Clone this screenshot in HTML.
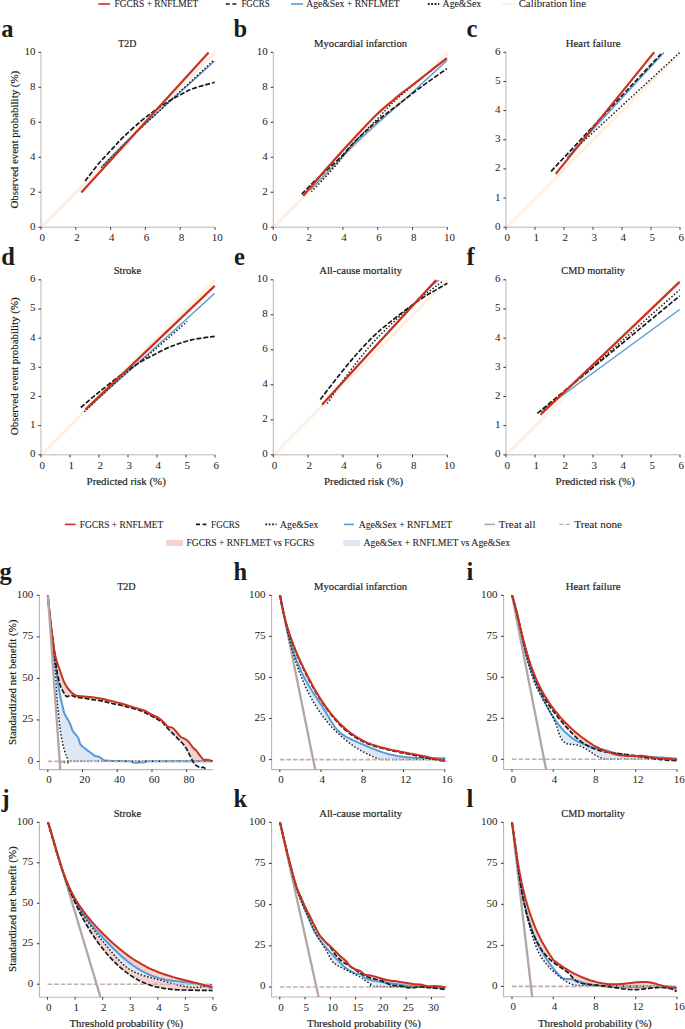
<!DOCTYPE html>
<html><head><meta charset="utf-8"><style>
html,body{margin:0;padding:0;background:#fff;overflow:hidden;}
svg{display:block;font-family:"Liberation Serif", serif;fill:#1e1e1e;}
text{fill:#1c1c1c;} text.h{stroke:#1c1c1c;stroke-width:0.18px;} text.lg{stroke:#1c1c1c;stroke-width:0.08px;}
</style></head><body>
<svg width="685" height="1029" viewBox="0 0 685 1029">
<line x1="41.00" y1="227.60" x2="215.00" y2="52.70" stroke="#fdefe2" stroke-width="2.9" stroke-linecap="butt"/>
<line x1="273.30" y1="227.60" x2="447.30" y2="52.70" stroke="#fdefe2" stroke-width="2.9" stroke-linecap="butt"/>
<line x1="506.00" y1="227.60" x2="680.00" y2="52.70" stroke="#fdefe2" stroke-width="2.9" stroke-linecap="butt"/>
<line x1="41.00" y1="455.20" x2="215.00" y2="280.20" stroke="#fdefe2" stroke-width="2.9" stroke-linecap="butt"/>
<line x1="273.30" y1="455.20" x2="447.30" y2="280.20" stroke="#fdefe2" stroke-width="2.9" stroke-linecap="butt"/>
<line x1="506.00" y1="455.20" x2="680.00" y2="280.20" stroke="#fdefe2" stroke-width="2.9" stroke-linecap="butt"/>
<line x1="41.00" y1="227.20" x2="41.00" y2="52.30" stroke="#bfb2b2" stroke-width="1.0" />
<line x1="41.00" y1="227.20" x2="215.00" y2="227.20" stroke="#bfb2b2" stroke-width="1.0" />
<line x1="38.40" y1="227.20" x2="41.00" y2="227.20" stroke="#333" stroke-width="1.0" />
<text x="35.40" y="229.70" font-size="11" text-anchor="end" font-weight="normal" >0</text>
<line x1="38.40" y1="192.22" x2="41.00" y2="192.22" stroke="#333" stroke-width="1.0" />
<text x="35.40" y="194.72" font-size="11" text-anchor="end" font-weight="normal" >2</text>
<line x1="38.40" y1="157.24" x2="41.00" y2="157.24" stroke="#333" stroke-width="1.0" />
<text x="35.40" y="159.74" font-size="11" text-anchor="end" font-weight="normal" >4</text>
<line x1="38.40" y1="122.26" x2="41.00" y2="122.26" stroke="#333" stroke-width="1.0" />
<text x="35.40" y="124.76" font-size="11" text-anchor="end" font-weight="normal" >6</text>
<line x1="38.40" y1="87.28" x2="41.00" y2="87.28" stroke="#333" stroke-width="1.0" />
<text x="35.40" y="89.78" font-size="11" text-anchor="end" font-weight="normal" >8</text>
<line x1="38.40" y1="52.30" x2="41.00" y2="52.30" stroke="#333" stroke-width="1.0" />
<text x="35.40" y="54.80" font-size="11" text-anchor="end" font-weight="normal" >10</text>
<line x1="41.00" y1="227.20" x2="41.00" y2="229.80" stroke="#333" stroke-width="1.0" />
<text x="42.20" y="240.90" font-size="11" text-anchor="middle" font-weight="normal" >0</text>
<line x1="75.80" y1="227.20" x2="75.80" y2="229.80" stroke="#333" stroke-width="1.0" />
<text x="77.00" y="240.90" font-size="11" text-anchor="middle" font-weight="normal" >2</text>
<line x1="110.60" y1="227.20" x2="110.60" y2="229.80" stroke="#333" stroke-width="1.0" />
<text x="111.80" y="240.90" font-size="11" text-anchor="middle" font-weight="normal" >4</text>
<line x1="145.40" y1="227.20" x2="145.40" y2="229.80" stroke="#333" stroke-width="1.0" />
<text x="146.60" y="240.90" font-size="11" text-anchor="middle" font-weight="normal" >6</text>
<line x1="180.20" y1="227.20" x2="180.20" y2="229.80" stroke="#333" stroke-width="1.0" />
<text x="181.40" y="240.90" font-size="11" text-anchor="middle" font-weight="normal" >8</text>
<line x1="215.00" y1="227.20" x2="215.00" y2="229.80" stroke="#333" stroke-width="1.0" />
<text x="217.20" y="240.90" font-size="11" text-anchor="middle" font-weight="normal" >10</text>
<text x="127.30" y="46.90" font-size="11" text-anchor="middle" font-weight="normal" textLength="18.10" lengthAdjust="spacingAndGlyphs" class="h">T2D</text>
<line x1="273.30" y1="227.20" x2="273.30" y2="52.30" stroke="#bfb2b2" stroke-width="1.0" />
<line x1="273.30" y1="227.20" x2="447.30" y2="227.20" stroke="#bfb2b2" stroke-width="1.0" />
<line x1="270.70" y1="227.20" x2="273.30" y2="227.20" stroke="#333" stroke-width="1.0" />
<text x="267.70" y="229.70" font-size="11" text-anchor="end" font-weight="normal" >0</text>
<line x1="270.70" y1="192.22" x2="273.30" y2="192.22" stroke="#333" stroke-width="1.0" />
<text x="267.70" y="194.72" font-size="11" text-anchor="end" font-weight="normal" >2</text>
<line x1="270.70" y1="157.24" x2="273.30" y2="157.24" stroke="#333" stroke-width="1.0" />
<text x="267.70" y="159.74" font-size="11" text-anchor="end" font-weight="normal" >4</text>
<line x1="270.70" y1="122.26" x2="273.30" y2="122.26" stroke="#333" stroke-width="1.0" />
<text x="267.70" y="124.76" font-size="11" text-anchor="end" font-weight="normal" >6</text>
<line x1="270.70" y1="87.28" x2="273.30" y2="87.28" stroke="#333" stroke-width="1.0" />
<text x="267.70" y="89.78" font-size="11" text-anchor="end" font-weight="normal" >8</text>
<line x1="270.70" y1="52.30" x2="273.30" y2="52.30" stroke="#333" stroke-width="1.0" />
<text x="267.70" y="54.80" font-size="11" text-anchor="end" font-weight="normal" >10</text>
<line x1="273.30" y1="227.20" x2="273.30" y2="229.80" stroke="#333" stroke-width="1.0" />
<text x="274.50" y="240.90" font-size="11" text-anchor="middle" font-weight="normal" >0</text>
<line x1="308.10" y1="227.20" x2="308.10" y2="229.80" stroke="#333" stroke-width="1.0" />
<text x="309.30" y="240.90" font-size="11" text-anchor="middle" font-weight="normal" >2</text>
<line x1="342.90" y1="227.20" x2="342.90" y2="229.80" stroke="#333" stroke-width="1.0" />
<text x="344.10" y="240.90" font-size="11" text-anchor="middle" font-weight="normal" >4</text>
<line x1="377.70" y1="227.20" x2="377.70" y2="229.80" stroke="#333" stroke-width="1.0" />
<text x="378.90" y="240.90" font-size="11" text-anchor="middle" font-weight="normal" >6</text>
<line x1="412.50" y1="227.20" x2="412.50" y2="229.80" stroke="#333" stroke-width="1.0" />
<text x="413.70" y="240.90" font-size="11" text-anchor="middle" font-weight="normal" >8</text>
<line x1="447.30" y1="227.20" x2="447.30" y2="229.80" stroke="#333" stroke-width="1.0" />
<text x="449.50" y="240.90" font-size="11" text-anchor="middle" font-weight="normal" >10</text>
<text x="360.60" y="46.90" font-size="11" text-anchor="middle" font-weight="normal" textLength="93.10" lengthAdjust="spacingAndGlyphs" class="h">Myocardial infarction</text>
<line x1="506.00" y1="227.20" x2="506.00" y2="52.30" stroke="#bfb2b2" stroke-width="1.0" />
<line x1="506.00" y1="227.20" x2="680.00" y2="227.20" stroke="#bfb2b2" stroke-width="1.0" />
<line x1="503.40" y1="227.20" x2="506.00" y2="227.20" stroke="#333" stroke-width="1.0" />
<text x="500.40" y="229.70" font-size="11" text-anchor="end" font-weight="normal" >0</text>
<line x1="503.40" y1="198.05" x2="506.00" y2="198.05" stroke="#333" stroke-width="1.0" />
<text x="500.40" y="200.55" font-size="11" text-anchor="end" font-weight="normal" >1</text>
<line x1="503.40" y1="168.90" x2="506.00" y2="168.90" stroke="#333" stroke-width="1.0" />
<text x="500.40" y="171.40" font-size="11" text-anchor="end" font-weight="normal" >2</text>
<line x1="503.40" y1="139.75" x2="506.00" y2="139.75" stroke="#333" stroke-width="1.0" />
<text x="500.40" y="142.25" font-size="11" text-anchor="end" font-weight="normal" >3</text>
<line x1="503.40" y1="110.60" x2="506.00" y2="110.60" stroke="#333" stroke-width="1.0" />
<text x="500.40" y="113.10" font-size="11" text-anchor="end" font-weight="normal" >4</text>
<line x1="503.40" y1="81.45" x2="506.00" y2="81.45" stroke="#333" stroke-width="1.0" />
<text x="500.40" y="83.95" font-size="11" text-anchor="end" font-weight="normal" >5</text>
<line x1="503.40" y1="52.30" x2="506.00" y2="52.30" stroke="#333" stroke-width="1.0" />
<text x="500.40" y="54.80" font-size="11" text-anchor="end" font-weight="normal" >6</text>
<line x1="506.00" y1="227.20" x2="506.00" y2="229.80" stroke="#333" stroke-width="1.0" />
<text x="507.20" y="240.90" font-size="11" text-anchor="middle" font-weight="normal" >0</text>
<line x1="535.00" y1="227.20" x2="535.00" y2="229.80" stroke="#333" stroke-width="1.0" />
<text x="536.20" y="240.90" font-size="11" text-anchor="middle" font-weight="normal" >1</text>
<line x1="564.00" y1="227.20" x2="564.00" y2="229.80" stroke="#333" stroke-width="1.0" />
<text x="565.20" y="240.90" font-size="11" text-anchor="middle" font-weight="normal" >2</text>
<line x1="593.00" y1="227.20" x2="593.00" y2="229.80" stroke="#333" stroke-width="1.0" />
<text x="594.20" y="240.90" font-size="11" text-anchor="middle" font-weight="normal" >3</text>
<line x1="622.00" y1="227.20" x2="622.00" y2="229.80" stroke="#333" stroke-width="1.0" />
<text x="623.20" y="240.90" font-size="11" text-anchor="middle" font-weight="normal" >4</text>
<line x1="651.00" y1="227.20" x2="651.00" y2="229.80" stroke="#333" stroke-width="1.0" />
<text x="652.20" y="240.90" font-size="11" text-anchor="middle" font-weight="normal" >5</text>
<line x1="680.00" y1="227.20" x2="680.00" y2="229.80" stroke="#333" stroke-width="1.0" />
<text x="681.20" y="240.90" font-size="11" text-anchor="middle" font-weight="normal" >6</text>
<text x="593.20" y="46.90" font-size="11" text-anchor="middle" font-weight="normal" textLength="54.90" lengthAdjust="spacingAndGlyphs" class="h">Heart failure</text>
<line x1="41.00" y1="454.80" x2="41.00" y2="279.80" stroke="#bfb2b2" stroke-width="1.0" />
<line x1="41.00" y1="454.80" x2="215.00" y2="454.80" stroke="#bfb2b2" stroke-width="1.0" />
<line x1="38.40" y1="454.80" x2="41.00" y2="454.80" stroke="#333" stroke-width="1.0" />
<text x="35.40" y="457.30" font-size="11" text-anchor="end" font-weight="normal" >0</text>
<line x1="38.40" y1="425.63" x2="41.00" y2="425.63" stroke="#333" stroke-width="1.0" />
<text x="35.40" y="428.13" font-size="11" text-anchor="end" font-weight="normal" >1</text>
<line x1="38.40" y1="396.47" x2="41.00" y2="396.47" stroke="#333" stroke-width="1.0" />
<text x="35.40" y="398.97" font-size="11" text-anchor="end" font-weight="normal" >2</text>
<line x1="38.40" y1="367.30" x2="41.00" y2="367.30" stroke="#333" stroke-width="1.0" />
<text x="35.40" y="369.80" font-size="11" text-anchor="end" font-weight="normal" >3</text>
<line x1="38.40" y1="338.13" x2="41.00" y2="338.13" stroke="#333" stroke-width="1.0" />
<text x="35.40" y="340.63" font-size="11" text-anchor="end" font-weight="normal" >4</text>
<line x1="38.40" y1="308.97" x2="41.00" y2="308.97" stroke="#333" stroke-width="1.0" />
<text x="35.40" y="311.47" font-size="11" text-anchor="end" font-weight="normal" >5</text>
<line x1="38.40" y1="279.80" x2="41.00" y2="279.80" stroke="#333" stroke-width="1.0" />
<text x="35.40" y="282.30" font-size="11" text-anchor="end" font-weight="normal" >6</text>
<line x1="41.00" y1="454.80" x2="41.00" y2="457.40" stroke="#333" stroke-width="1.0" />
<text x="42.20" y="468.50" font-size="11" text-anchor="middle" font-weight="normal" >0</text>
<line x1="70.00" y1="454.80" x2="70.00" y2="457.40" stroke="#333" stroke-width="1.0" />
<text x="71.20" y="468.50" font-size="11" text-anchor="middle" font-weight="normal" >1</text>
<line x1="99.00" y1="454.80" x2="99.00" y2="457.40" stroke="#333" stroke-width="1.0" />
<text x="100.20" y="468.50" font-size="11" text-anchor="middle" font-weight="normal" >2</text>
<line x1="128.00" y1="454.80" x2="128.00" y2="457.40" stroke="#333" stroke-width="1.0" />
<text x="129.20" y="468.50" font-size="11" text-anchor="middle" font-weight="normal" >3</text>
<line x1="157.00" y1="454.80" x2="157.00" y2="457.40" stroke="#333" stroke-width="1.0" />
<text x="158.20" y="468.50" font-size="11" text-anchor="middle" font-weight="normal" >4</text>
<line x1="186.00" y1="454.80" x2="186.00" y2="457.40" stroke="#333" stroke-width="1.0" />
<text x="187.20" y="468.50" font-size="11" text-anchor="middle" font-weight="normal" >5</text>
<line x1="215.00" y1="454.80" x2="215.00" y2="457.40" stroke="#333" stroke-width="1.0" />
<text x="216.20" y="468.50" font-size="11" text-anchor="middle" font-weight="normal" >6</text>
<text x="127.50" y="274.40" font-size="11" text-anchor="middle" font-weight="normal" textLength="27.70" lengthAdjust="spacingAndGlyphs" class="h">Stroke</text>
<line x1="273.30" y1="454.80" x2="273.30" y2="279.80" stroke="#bfb2b2" stroke-width="1.0" />
<line x1="273.30" y1="454.80" x2="447.30" y2="454.80" stroke="#bfb2b2" stroke-width="1.0" />
<line x1="270.70" y1="454.80" x2="273.30" y2="454.80" stroke="#333" stroke-width="1.0" />
<text x="267.70" y="457.30" font-size="11" text-anchor="end" font-weight="normal" >0</text>
<line x1="270.70" y1="419.80" x2="273.30" y2="419.80" stroke="#333" stroke-width="1.0" />
<text x="267.70" y="422.30" font-size="11" text-anchor="end" font-weight="normal" >2</text>
<line x1="270.70" y1="384.80" x2="273.30" y2="384.80" stroke="#333" stroke-width="1.0" />
<text x="267.70" y="387.30" font-size="11" text-anchor="end" font-weight="normal" >4</text>
<line x1="270.70" y1="349.80" x2="273.30" y2="349.80" stroke="#333" stroke-width="1.0" />
<text x="267.70" y="352.30" font-size="11" text-anchor="end" font-weight="normal" >6</text>
<line x1="270.70" y1="314.80" x2="273.30" y2="314.80" stroke="#333" stroke-width="1.0" />
<text x="267.70" y="317.30" font-size="11" text-anchor="end" font-weight="normal" >8</text>
<line x1="270.70" y1="279.80" x2="273.30" y2="279.80" stroke="#333" stroke-width="1.0" />
<text x="267.70" y="282.30" font-size="11" text-anchor="end" font-weight="normal" >10</text>
<line x1="273.30" y1="454.80" x2="273.30" y2="457.40" stroke="#333" stroke-width="1.0" />
<text x="274.50" y="468.50" font-size="11" text-anchor="middle" font-weight="normal" >0</text>
<line x1="308.10" y1="454.80" x2="308.10" y2="457.40" stroke="#333" stroke-width="1.0" />
<text x="309.30" y="468.50" font-size="11" text-anchor="middle" font-weight="normal" >2</text>
<line x1="342.90" y1="454.80" x2="342.90" y2="457.40" stroke="#333" stroke-width="1.0" />
<text x="344.10" y="468.50" font-size="11" text-anchor="middle" font-weight="normal" >4</text>
<line x1="377.70" y1="454.80" x2="377.70" y2="457.40" stroke="#333" stroke-width="1.0" />
<text x="378.90" y="468.50" font-size="11" text-anchor="middle" font-weight="normal" >6</text>
<line x1="412.50" y1="454.80" x2="412.50" y2="457.40" stroke="#333" stroke-width="1.0" />
<text x="413.70" y="468.50" font-size="11" text-anchor="middle" font-weight="normal" >8</text>
<line x1="447.30" y1="454.80" x2="447.30" y2="457.40" stroke="#333" stroke-width="1.0" />
<text x="449.50" y="468.50" font-size="11" text-anchor="middle" font-weight="normal" >10</text>
<text x="360.60" y="274.40" font-size="11" text-anchor="middle" font-weight="normal" textLength="82.80" lengthAdjust="spacingAndGlyphs" class="h">All-cause mortality</text>
<line x1="506.00" y1="454.80" x2="506.00" y2="279.80" stroke="#bfb2b2" stroke-width="1.0" />
<line x1="506.00" y1="454.80" x2="680.00" y2="454.80" stroke="#bfb2b2" stroke-width="1.0" />
<line x1="503.40" y1="454.80" x2="506.00" y2="454.80" stroke="#333" stroke-width="1.0" />
<text x="500.40" y="457.30" font-size="11" text-anchor="end" font-weight="normal" >0</text>
<line x1="503.40" y1="425.63" x2="506.00" y2="425.63" stroke="#333" stroke-width="1.0" />
<text x="500.40" y="428.13" font-size="11" text-anchor="end" font-weight="normal" >1</text>
<line x1="503.40" y1="396.47" x2="506.00" y2="396.47" stroke="#333" stroke-width="1.0" />
<text x="500.40" y="398.97" font-size="11" text-anchor="end" font-weight="normal" >2</text>
<line x1="503.40" y1="367.30" x2="506.00" y2="367.30" stroke="#333" stroke-width="1.0" />
<text x="500.40" y="369.80" font-size="11" text-anchor="end" font-weight="normal" >3</text>
<line x1="503.40" y1="338.13" x2="506.00" y2="338.13" stroke="#333" stroke-width="1.0" />
<text x="500.40" y="340.63" font-size="11" text-anchor="end" font-weight="normal" >4</text>
<line x1="503.40" y1="308.97" x2="506.00" y2="308.97" stroke="#333" stroke-width="1.0" />
<text x="500.40" y="311.47" font-size="11" text-anchor="end" font-weight="normal" >5</text>
<line x1="503.40" y1="279.80" x2="506.00" y2="279.80" stroke="#333" stroke-width="1.0" />
<text x="500.40" y="282.30" font-size="11" text-anchor="end" font-weight="normal" >6</text>
<line x1="506.00" y1="454.80" x2="506.00" y2="457.40" stroke="#333" stroke-width="1.0" />
<text x="507.20" y="468.50" font-size="11" text-anchor="middle" font-weight="normal" >0</text>
<line x1="535.00" y1="454.80" x2="535.00" y2="457.40" stroke="#333" stroke-width="1.0" />
<text x="536.20" y="468.50" font-size="11" text-anchor="middle" font-weight="normal" >1</text>
<line x1="564.00" y1="454.80" x2="564.00" y2="457.40" stroke="#333" stroke-width="1.0" />
<text x="565.20" y="468.50" font-size="11" text-anchor="middle" font-weight="normal" >2</text>
<line x1="593.00" y1="454.80" x2="593.00" y2="457.40" stroke="#333" stroke-width="1.0" />
<text x="594.20" y="468.50" font-size="11" text-anchor="middle" font-weight="normal" >3</text>
<line x1="622.00" y1="454.80" x2="622.00" y2="457.40" stroke="#333" stroke-width="1.0" />
<text x="623.20" y="468.50" font-size="11" text-anchor="middle" font-weight="normal" >4</text>
<line x1="651.00" y1="454.80" x2="651.00" y2="457.40" stroke="#333" stroke-width="1.0" />
<text x="652.20" y="468.50" font-size="11" text-anchor="middle" font-weight="normal" >5</text>
<line x1="680.00" y1="454.80" x2="680.00" y2="457.40" stroke="#333" stroke-width="1.0" />
<text x="681.20" y="468.50" font-size="11" text-anchor="middle" font-weight="normal" >6</text>
<text x="593.10" y="274.40" font-size="11" text-anchor="middle" font-weight="normal" textLength="63.60" lengthAdjust="spacingAndGlyphs" class="h">CMD mortality</text>
<line x1="39.40" y1="595.30" x2="39.40" y2="769.60" stroke="#bfb2b2" stroke-width="1.1" />
<line x1="39.40" y1="769.60" x2="213.00" y2="769.60" stroke="#bfb2b2" stroke-width="1.1" />
<line x1="36.80" y1="761.50" x2="39.40" y2="761.50" stroke="#333" stroke-width="1.0" />
<text x="33.20" y="763.90" font-size="11" text-anchor="end" font-weight="normal" >0</text>
<line x1="36.80" y1="719.95" x2="39.40" y2="719.95" stroke="#333" stroke-width="1.0" />
<text x="33.20" y="722.35" font-size="11" text-anchor="end" font-weight="normal" >25</text>
<line x1="36.80" y1="678.40" x2="39.40" y2="678.40" stroke="#333" stroke-width="1.0" />
<text x="33.20" y="680.80" font-size="11" text-anchor="end" font-weight="normal" >50</text>
<line x1="36.80" y1="636.85" x2="39.40" y2="636.85" stroke="#333" stroke-width="1.0" />
<text x="33.20" y="639.25" font-size="11" text-anchor="end" font-weight="normal" >75</text>
<line x1="36.80" y1="595.30" x2="39.40" y2="595.30" stroke="#333" stroke-width="1.0" />
<text x="33.20" y="597.70" font-size="11" text-anchor="end" font-weight="normal" >100</text>
<line x1="47.80" y1="769.60" x2="47.80" y2="772.00" stroke="#333" stroke-width="1.0" />
<text x="49.00" y="783.20" font-size="11" text-anchor="middle" font-weight="normal" >0</text>
<line x1="82.52" y1="769.60" x2="82.52" y2="772.00" stroke="#333" stroke-width="1.0" />
<text x="84.72" y="783.20" font-size="11" text-anchor="middle" font-weight="normal" >20</text>
<line x1="117.25" y1="769.60" x2="117.25" y2="772.00" stroke="#333" stroke-width="1.0" />
<text x="119.45" y="783.20" font-size="11" text-anchor="middle" font-weight="normal" >40</text>
<line x1="151.97" y1="769.60" x2="151.97" y2="772.00" stroke="#333" stroke-width="1.0" />
<text x="154.17" y="783.20" font-size="11" text-anchor="middle" font-weight="normal" >60</text>
<line x1="186.70" y1="769.60" x2="186.70" y2="772.00" stroke="#333" stroke-width="1.0" />
<text x="188.90" y="783.20" font-size="11" text-anchor="middle" font-weight="normal" >80</text>
<text x="126.40" y="590.10" font-size="11" text-anchor="middle" font-weight="normal" textLength="18.50" lengthAdjust="spacingAndGlyphs" class="h">T2D</text>
<line x1="271.60" y1="595.30" x2="271.60" y2="769.60" stroke="#bfb2b2" stroke-width="1.1" />
<line x1="271.60" y1="769.60" x2="445.00" y2="769.60" stroke="#bfb2b2" stroke-width="1.1" />
<line x1="269.00" y1="759.60" x2="271.60" y2="759.60" stroke="#333" stroke-width="1.0" />
<text x="265.40" y="762.00" font-size="11" text-anchor="end" font-weight="normal" >0</text>
<line x1="269.00" y1="718.52" x2="271.60" y2="718.52" stroke="#333" stroke-width="1.0" />
<text x="265.40" y="720.92" font-size="11" text-anchor="end" font-weight="normal" >25</text>
<line x1="269.00" y1="677.45" x2="271.60" y2="677.45" stroke="#333" stroke-width="1.0" />
<text x="265.40" y="679.85" font-size="11" text-anchor="end" font-weight="normal" >50</text>
<line x1="269.00" y1="636.38" x2="271.60" y2="636.38" stroke="#333" stroke-width="1.0" />
<text x="265.40" y="638.77" font-size="11" text-anchor="end" font-weight="normal" >75</text>
<line x1="269.00" y1="595.30" x2="271.60" y2="595.30" stroke="#333" stroke-width="1.0" />
<text x="265.40" y="597.70" font-size="11" text-anchor="end" font-weight="normal" >100</text>
<line x1="279.80" y1="769.60" x2="279.80" y2="772.00" stroke="#333" stroke-width="1.0" />
<text x="281.00" y="783.20" font-size="11" text-anchor="middle" font-weight="normal" >0</text>
<line x1="321.05" y1="769.60" x2="321.05" y2="772.00" stroke="#333" stroke-width="1.0" />
<text x="322.25" y="783.20" font-size="11" text-anchor="middle" font-weight="normal" >4</text>
<line x1="362.30" y1="769.60" x2="362.30" y2="772.00" stroke="#333" stroke-width="1.0" />
<text x="363.50" y="783.20" font-size="11" text-anchor="middle" font-weight="normal" >8</text>
<line x1="403.55" y1="769.60" x2="403.55" y2="772.00" stroke="#333" stroke-width="1.0" />
<text x="405.75" y="783.20" font-size="11" text-anchor="middle" font-weight="normal" >12</text>
<line x1="444.80" y1="769.60" x2="444.80" y2="772.00" stroke="#333" stroke-width="1.0" />
<text x="447.00" y="783.20" font-size="11" text-anchor="middle" font-weight="normal" >16</text>
<text x="360.60" y="590.10" font-size="11" text-anchor="middle" font-weight="normal" textLength="93.10" lengthAdjust="spacingAndGlyphs" class="h">Myocardial infarction</text>
<line x1="503.60" y1="595.30" x2="503.60" y2="769.50" stroke="#bfb2b2" stroke-width="1.1" />
<line x1="503.60" y1="769.50" x2="677.00" y2="769.50" stroke="#bfb2b2" stroke-width="1.1" />
<line x1="501.00" y1="759.30" x2="503.60" y2="759.30" stroke="#333" stroke-width="1.0" />
<text x="497.40" y="761.70" font-size="11" text-anchor="end" font-weight="normal" >0</text>
<line x1="501.00" y1="718.30" x2="503.60" y2="718.30" stroke="#333" stroke-width="1.0" />
<text x="497.40" y="720.70" font-size="11" text-anchor="end" font-weight="normal" >25</text>
<line x1="501.00" y1="677.30" x2="503.60" y2="677.30" stroke="#333" stroke-width="1.0" />
<text x="497.40" y="679.70" font-size="11" text-anchor="end" font-weight="normal" >50</text>
<line x1="501.00" y1="636.30" x2="503.60" y2="636.30" stroke="#333" stroke-width="1.0" />
<text x="497.40" y="638.70" font-size="11" text-anchor="end" font-weight="normal" >75</text>
<line x1="501.00" y1="595.30" x2="503.60" y2="595.30" stroke="#333" stroke-width="1.0" />
<text x="497.40" y="597.70" font-size="11" text-anchor="end" font-weight="normal" >100</text>
<line x1="512.00" y1="769.50" x2="512.00" y2="771.90" stroke="#333" stroke-width="1.0" />
<text x="513.20" y="783.10" font-size="11" text-anchor="middle" font-weight="normal" >0</text>
<line x1="553.25" y1="769.50" x2="553.25" y2="771.90" stroke="#333" stroke-width="1.0" />
<text x="554.45" y="783.10" font-size="11" text-anchor="middle" font-weight="normal" >4</text>
<line x1="594.50" y1="769.50" x2="594.50" y2="771.90" stroke="#333" stroke-width="1.0" />
<text x="595.70" y="783.10" font-size="11" text-anchor="middle" font-weight="normal" >8</text>
<line x1="635.75" y1="769.50" x2="635.75" y2="771.90" stroke="#333" stroke-width="1.0" />
<text x="637.95" y="783.10" font-size="11" text-anchor="middle" font-weight="normal" >12</text>
<line x1="677.00" y1="769.50" x2="677.00" y2="771.90" stroke="#333" stroke-width="1.0" />
<text x="679.20" y="783.10" font-size="11" text-anchor="middle" font-weight="normal" >16</text>
<text x="593.20" y="590.10" font-size="11" text-anchor="middle" font-weight="normal" textLength="54.90" lengthAdjust="spacingAndGlyphs" class="h">Heart failure</text>
<line x1="39.40" y1="822.30" x2="39.40" y2="997.20" stroke="#bfb2b2" stroke-width="1.1" />
<line x1="39.40" y1="997.20" x2="213.00" y2="997.20" stroke="#bfb2b2" stroke-width="1.1" />
<line x1="36.80" y1="984.20" x2="39.40" y2="984.20" stroke="#333" stroke-width="1.0" />
<text x="33.20" y="986.60" font-size="11" text-anchor="end" font-weight="normal" >0</text>
<line x1="36.80" y1="943.73" x2="39.40" y2="943.73" stroke="#333" stroke-width="1.0" />
<text x="33.20" y="946.12" font-size="11" text-anchor="end" font-weight="normal" >25</text>
<line x1="36.80" y1="903.25" x2="39.40" y2="903.25" stroke="#333" stroke-width="1.0" />
<text x="33.20" y="905.65" font-size="11" text-anchor="end" font-weight="normal" >50</text>
<line x1="36.80" y1="862.77" x2="39.40" y2="862.77" stroke="#333" stroke-width="1.0" />
<text x="33.20" y="865.17" font-size="11" text-anchor="end" font-weight="normal" >75</text>
<line x1="36.80" y1="822.30" x2="39.40" y2="822.30" stroke="#333" stroke-width="1.0" />
<text x="33.20" y="824.70" font-size="11" text-anchor="end" font-weight="normal" >100</text>
<line x1="47.50" y1="997.20" x2="47.50" y2="999.60" stroke="#333" stroke-width="1.0" />
<text x="48.70" y="1010.80" font-size="11" text-anchor="middle" font-weight="normal" >0</text>
<line x1="75.08" y1="997.20" x2="75.08" y2="999.60" stroke="#333" stroke-width="1.0" />
<text x="76.28" y="1010.80" font-size="11" text-anchor="middle" font-weight="normal" >1</text>
<line x1="102.67" y1="997.20" x2="102.67" y2="999.60" stroke="#333" stroke-width="1.0" />
<text x="103.87" y="1010.80" font-size="11" text-anchor="middle" font-weight="normal" >2</text>
<line x1="130.25" y1="997.20" x2="130.25" y2="999.60" stroke="#333" stroke-width="1.0" />
<text x="131.45" y="1010.80" font-size="11" text-anchor="middle" font-weight="normal" >3</text>
<line x1="157.83" y1="997.20" x2="157.83" y2="999.60" stroke="#333" stroke-width="1.0" />
<text x="159.03" y="1010.80" font-size="11" text-anchor="middle" font-weight="normal" >4</text>
<line x1="185.42" y1="997.20" x2="185.42" y2="999.60" stroke="#333" stroke-width="1.0" />
<text x="186.62" y="1010.80" font-size="11" text-anchor="middle" font-weight="normal" >5</text>
<line x1="213.00" y1="997.20" x2="213.00" y2="999.60" stroke="#333" stroke-width="1.0" />
<text x="214.20" y="1010.80" font-size="11" text-anchor="middle" font-weight="normal" >6</text>
<text x="127.50" y="817.10" font-size="11" text-anchor="middle" font-weight="normal" textLength="27.70" lengthAdjust="spacingAndGlyphs" class="h">Stroke</text>
<line x1="271.60" y1="822.30" x2="271.60" y2="997.00" stroke="#bfb2b2" stroke-width="1.1" />
<line x1="271.60" y1="997.00" x2="445.00" y2="997.00" stroke="#bfb2b2" stroke-width="1.1" />
<line x1="269.00" y1="987.00" x2="271.60" y2="987.00" stroke="#333" stroke-width="1.0" />
<text x="265.40" y="989.40" font-size="11" text-anchor="end" font-weight="normal" >0</text>
<line x1="269.00" y1="945.83" x2="271.60" y2="945.83" stroke="#333" stroke-width="1.0" />
<text x="265.40" y="948.23" font-size="11" text-anchor="end" font-weight="normal" >25</text>
<line x1="269.00" y1="904.65" x2="271.60" y2="904.65" stroke="#333" stroke-width="1.0" />
<text x="265.40" y="907.05" font-size="11" text-anchor="end" font-weight="normal" >50</text>
<line x1="269.00" y1="863.47" x2="271.60" y2="863.47" stroke="#333" stroke-width="1.0" />
<text x="265.40" y="865.87" font-size="11" text-anchor="end" font-weight="normal" >75</text>
<line x1="269.00" y1="822.30" x2="271.60" y2="822.30" stroke="#333" stroke-width="1.0" />
<text x="265.40" y="824.70" font-size="11" text-anchor="end" font-weight="normal" >100</text>
<line x1="279.80" y1="997.00" x2="279.80" y2="999.40" stroke="#333" stroke-width="1.0" />
<text x="281.00" y="1010.60" font-size="11" text-anchor="middle" font-weight="normal" >0</text>
<line x1="305.07" y1="997.00" x2="305.07" y2="999.40" stroke="#333" stroke-width="1.0" />
<text x="306.27" y="1010.60" font-size="11" text-anchor="middle" font-weight="normal" >5</text>
<line x1="330.33" y1="997.00" x2="330.33" y2="999.40" stroke="#333" stroke-width="1.0" />
<text x="332.53" y="1010.60" font-size="11" text-anchor="middle" font-weight="normal" >10</text>
<line x1="355.60" y1="997.00" x2="355.60" y2="999.40" stroke="#333" stroke-width="1.0" />
<text x="357.80" y="1010.60" font-size="11" text-anchor="middle" font-weight="normal" >15</text>
<line x1="380.87" y1="997.00" x2="380.87" y2="999.40" stroke="#333" stroke-width="1.0" />
<text x="383.07" y="1010.60" font-size="11" text-anchor="middle" font-weight="normal" >20</text>
<line x1="406.13" y1="997.00" x2="406.13" y2="999.40" stroke="#333" stroke-width="1.0" />
<text x="408.33" y="1010.60" font-size="11" text-anchor="middle" font-weight="normal" >25</text>
<line x1="431.40" y1="997.00" x2="431.40" y2="999.40" stroke="#333" stroke-width="1.0" />
<text x="433.60" y="1010.60" font-size="11" text-anchor="middle" font-weight="normal" >30</text>
<text x="360.60" y="817.10" font-size="11" text-anchor="middle" font-weight="normal" textLength="82.80" lengthAdjust="spacingAndGlyphs" class="h">All-cause mortality</text>
<line x1="503.60" y1="822.30" x2="503.60" y2="996.80" stroke="#bfb2b2" stroke-width="1.1" />
<line x1="503.60" y1="996.80" x2="677.00" y2="996.80" stroke="#bfb2b2" stroke-width="1.1" />
<line x1="501.00" y1="986.40" x2="503.60" y2="986.40" stroke="#333" stroke-width="1.0" />
<text x="497.40" y="988.80" font-size="11" text-anchor="end" font-weight="normal" >0</text>
<line x1="501.00" y1="945.38" x2="503.60" y2="945.38" stroke="#333" stroke-width="1.0" />
<text x="497.40" y="947.77" font-size="11" text-anchor="end" font-weight="normal" >25</text>
<line x1="501.00" y1="904.35" x2="503.60" y2="904.35" stroke="#333" stroke-width="1.0" />
<text x="497.40" y="906.75" font-size="11" text-anchor="end" font-weight="normal" >50</text>
<line x1="501.00" y1="863.32" x2="503.60" y2="863.32" stroke="#333" stroke-width="1.0" />
<text x="497.40" y="865.72" font-size="11" text-anchor="end" font-weight="normal" >75</text>
<line x1="501.00" y1="822.30" x2="503.60" y2="822.30" stroke="#333" stroke-width="1.0" />
<text x="497.40" y="824.70" font-size="11" text-anchor="end" font-weight="normal" >100</text>
<line x1="512.00" y1="996.80" x2="512.00" y2="999.20" stroke="#333" stroke-width="1.0" />
<text x="513.20" y="1010.40" font-size="11" text-anchor="middle" font-weight="normal" >0</text>
<line x1="553.25" y1="996.80" x2="553.25" y2="999.20" stroke="#333" stroke-width="1.0" />
<text x="554.45" y="1010.40" font-size="11" text-anchor="middle" font-weight="normal" >4</text>
<line x1="594.50" y1="996.80" x2="594.50" y2="999.20" stroke="#333" stroke-width="1.0" />
<text x="595.70" y="1010.40" font-size="11" text-anchor="middle" font-weight="normal" >8</text>
<line x1="635.75" y1="996.80" x2="635.75" y2="999.20" stroke="#333" stroke-width="1.0" />
<text x="637.95" y="1010.40" font-size="11" text-anchor="middle" font-weight="normal" >12</text>
<line x1="677.00" y1="996.80" x2="677.00" y2="999.20" stroke="#333" stroke-width="1.0" />
<text x="679.20" y="1010.40" font-size="11" text-anchor="middle" font-weight="normal" >16</text>
<text x="593.10" y="817.10" font-size="11" text-anchor="middle" font-weight="normal" textLength="63.60" lengthAdjust="spacingAndGlyphs" class="h">CMD mortality</text>
<text x="1.20" y="37.30" font-size="24.5" text-anchor="start" font-weight="bold" >a</text>
<text x="233.60" y="37.20" font-size="24.5" text-anchor="start" font-weight="bold" >b</text>
<text x="466.60" y="37.30" font-size="24.5" text-anchor="start" font-weight="bold" >c</text>
<text x="1.20" y="264.60" font-size="24.5" text-anchor="start" font-weight="bold" >d</text>
<text x="233.90" y="264.60" font-size="24.5" text-anchor="start" font-weight="bold" >e</text>
<text x="466.60" y="264.60" font-size="24.5" text-anchor="start" font-weight="bold" >f</text>
<text x="-0.60" y="580.40" font-size="24.5" text-anchor="start" font-weight="bold" >g</text>
<text x="233.60" y="580.40" font-size="24.5" text-anchor="start" font-weight="bold" >h</text>
<text x="466.60" y="580.40" font-size="24.5" text-anchor="start" font-weight="bold" >i</text>
<text x="1.50" y="807.40" font-size="24.5" text-anchor="start" font-weight="bold" >j</text>
<text x="233.60" y="807.40" font-size="24.5" text-anchor="start" font-weight="bold" >k</text>
<text x="466.60" y="807.40" font-size="24.5" text-anchor="start" font-weight="bold" >l</text>
<text x="0.00" y="0.00" font-size="11" text-anchor="middle" font-weight="normal" textLength="137.80" lengthAdjust="spacingAndGlyphs" class="h" transform="translate(17.9,139.7) rotate(-90)">Observed event probability (%)</text>
<text x="0.00" y="0.00" font-size="11" text-anchor="middle" font-weight="normal" textLength="137.80" lengthAdjust="spacingAndGlyphs" class="h" transform="translate(17.9,366.3) rotate(-90)">Observed event probability (%)</text>
<text x="0.00" y="0.00" font-size="11" text-anchor="middle" font-weight="normal" textLength="125.60" lengthAdjust="spacingAndGlyphs" class="h" transform="translate(16.0,682.3) rotate(-90)">Standardized net benefit (%)</text>
<text x="0.00" y="0.00" font-size="11" text-anchor="middle" font-weight="normal" textLength="125.60" lengthAdjust="spacingAndGlyphs" class="h" transform="translate(16.0,909.1) rotate(-90)">Standardized net benefit (%)</text>
<text x="126.20" y="484.60" font-size="11" text-anchor="middle" font-weight="normal" textLength="79.20" lengthAdjust="spacingAndGlyphs" class="h">Predicted risk (%)</text>
<text x="363.60" y="484.60" font-size="11" text-anchor="middle" font-weight="normal" textLength="79.20" lengthAdjust="spacingAndGlyphs" class="h">Predicted risk (%)</text>
<text x="595.20" y="484.60" font-size="11" text-anchor="middle" font-weight="normal" textLength="79.20" lengthAdjust="spacingAndGlyphs" class="h">Predicted risk (%)</text>
<text x="126.30" y="1026.80" font-size="11" text-anchor="middle" font-weight="normal" textLength="113.80" lengthAdjust="spacingAndGlyphs" class="h">Threshold probability (%)</text>
<text x="363.90" y="1026.80" font-size="11" text-anchor="middle" font-weight="normal" textLength="113.80" lengthAdjust="spacingAndGlyphs" class="h">Threshold probability (%)</text>
<text x="594.80" y="1026.80" font-size="11" text-anchor="middle" font-weight="normal" textLength="113.80" lengthAdjust="spacingAndGlyphs" class="h">Threshold probability (%)</text>
<line x1="98.40" y1="4.00" x2="110.10" y2="4.00" stroke="#c8321e" stroke-width="1.6" />
<text x="114.50" y="7.00" font-size="10.7" text-anchor="start" font-weight="normal" textLength="83.70" lengthAdjust="spacingAndGlyphs" class="lg">FGCRS + RNFLMET</text>
<line x1="225.80" y1="4.00" x2="236.60" y2="4.00" stroke="#1a1a1a" stroke-width="1.6" stroke-dasharray="4,2.6"/>
<text x="241.40" y="7.00" font-size="10.7" text-anchor="start" font-weight="normal" textLength="28.30" lengthAdjust="spacingAndGlyphs" class="lg">FGCRS</text>
<line x1="291.00" y1="4.00" x2="303.00" y2="4.00" stroke="#5b9bd5" stroke-width="1.6" />
<text x="306.20" y="7.00" font-size="10.7" text-anchor="start" font-weight="normal" textLength="93.60" lengthAdjust="spacingAndGlyphs" class="lg">Age&amp;Sex + RNFLMET</text>
<line x1="427.80" y1="4.00" x2="439.20" y2="4.00" stroke="#1a1a1a" stroke-width="1.9" stroke-dasharray="1.8,1.6"/>
<text x="442.60" y="7.00" font-size="10.7" text-anchor="start" font-weight="normal" textLength="38.50" lengthAdjust="spacingAndGlyphs" class="lg">Age&amp;Sex</text>
<line x1="501.90" y1="4.00" x2="514.90" y2="4.00" stroke="#fdefe2" stroke-width="1.8" />
<text x="518.70" y="7.00" font-size="10.7" text-anchor="start" font-weight="normal" textLength="67.30" lengthAdjust="spacingAndGlyphs" class="lg">Calibration line</text>
<line x1="64.80" y1="524.40" x2="75.70" y2="524.40" stroke="#c8321e" stroke-width="1.6" />
<text x="79.70" y="528.10" font-size="10.7" text-anchor="start" font-weight="normal" textLength="83.50" lengthAdjust="spacingAndGlyphs" class="lg">FGCRS + RNFLMET</text>
<line x1="196.00" y1="524.40" x2="206.40" y2="524.40" stroke="#1a1a1a" stroke-width="1.6" stroke-dasharray="4,2.6"/>
<text x="211.10" y="528.10" font-size="10.7" text-anchor="start" font-weight="normal" textLength="28.70" lengthAdjust="spacingAndGlyphs" class="lg">FGCRS</text>
<line x1="265.30" y1="524.40" x2="276.50" y2="524.40" stroke="#1a1a1a" stroke-width="1.9" stroke-dasharray="1.8,1.6"/>
<text x="280.10" y="528.10" font-size="10.7" text-anchor="start" font-weight="normal" textLength="38.20" lengthAdjust="spacingAndGlyphs" class="lg">Age&amp;Sex</text>
<line x1="344.00" y1="524.40" x2="354.00" y2="524.40" stroke="#5b9bd5" stroke-width="1.6" />
<text x="358.70" y="528.10" font-size="10.7" text-anchor="start" font-weight="normal" textLength="93.50" lengthAdjust="spacingAndGlyphs" class="lg">Age&amp;Sex + RNFLMET</text>
<line x1="484.40" y1="524.40" x2="494.90" y2="524.40" stroke="#b3a5a5" stroke-width="1.6" />
<text x="498.80" y="528.10" font-size="10.7" text-anchor="start" font-weight="normal" textLength="36.70" lengthAdjust="spacingAndGlyphs" class="lg">Treat all</text>
<line x1="559.30" y1="524.40" x2="569.80" y2="524.40" stroke="#c2b0b0" stroke-width="1.3" stroke-dasharray="4,2.6"/>
<text x="574.20" y="528.10" font-size="10.7" text-anchor="start" font-weight="normal" textLength="47.90" lengthAdjust="spacingAndGlyphs" class="lg">Treat none</text>
<rect x="166.2" y="539.8" width="16.9" height="6.2" fill="#f3d3cf"/>
<text x="186.50" y="546.00" font-size="10.7" text-anchor="start" font-weight="normal" textLength="127.80" lengthAdjust="spacingAndGlyphs" class="lg">FGCRS + RNFLMET vs FGCRS</text>
<rect x="343.3" y="539.8" width="16.6" height="6.2" fill="#dce8f5"/>
<text x="363.40" y="546.00" font-size="10.7" text-anchor="start" font-weight="normal" textLength="146.70" lengthAdjust="spacingAndGlyphs" class="lg">Age&amp;Sex + RNFLMET vs Age&amp;Sex</text>
<path d="M101.30,167.30 C104.42,164.08 113.55,154.47 120.00,148.00 C126.45,141.53 130.50,137.33 140.00,128.50 C149.50,119.67 164.60,106.22 177.00,95.00 C189.40,83.78 208.17,66.83 214.40,61.20" fill="none" stroke="#5b9bd5" stroke-width="1.45" stroke-linejoin="round" stroke-linecap="butt"/>
<path d="M101.30,167.80 C104.42,164.58 113.55,154.97 120.00,148.50 C126.45,142.03 130.50,138.00 140.00,129.00 C149.50,120.00 164.63,106.05 177.00,94.50 C189.37,82.95 208.00,65.50 214.20,59.70" fill="none" stroke="#1a1a1a" stroke-width="1.45" stroke-dasharray="1.5,1.9" stroke-linejoin="round" stroke-linecap="butt"/>
<path d="M85.20,181.10 C87.42,178.20 94.12,168.93 98.50,163.70 C102.88,158.47 107.42,154.08 111.50,149.70 C115.58,145.32 118.17,142.08 123.00,137.40 C127.83,132.72 135.25,126.05 140.50,121.60 C145.75,117.15 149.72,114.13 154.50,110.70 C159.28,107.27 164.80,103.70 169.20,101.00 C173.60,98.30 177.00,96.55 180.90,94.50 C184.80,92.45 186.97,90.73 192.60,88.70 C198.23,86.67 211.02,83.37 214.70,82.30" fill="none" stroke="#1a1a1a" stroke-width="1.7" stroke-dasharray="5,1.8" stroke-linejoin="round" stroke-linecap="butt"/>
<path d="M81.3,192.4 L208.6,52.5" fill="none" stroke="#c8321e" stroke-width="2.2" stroke-linejoin="round" stroke-linecap="butt"/>
<path d="M310.20,190.00 C313.88,186.25 325.10,174.92 332.30,167.50 C339.50,160.08 346.00,152.77 353.40,145.50 C360.80,138.23 369.70,130.23 376.70,123.90 C383.70,117.57 389.85,112.37 395.40,107.50 C400.95,102.63 404.57,99.62 410.00,94.70 C415.43,89.78 421.85,83.70 428.00,78.00 C434.15,72.30 443.75,63.42 446.90,60.50" fill="none" stroke="#5b9bd5" stroke-width="1.45" stroke-linejoin="round" stroke-linecap="butt"/>
<path d="M311.40,191.80 C315.08,187.83 326.50,176.05 333.50,168.00 C340.50,159.95 346.20,151.58 353.40,143.50 C360.60,135.42 369.80,126.60 376.70,119.50 C383.60,112.40 387.58,107.57 394.80,100.90 C402.02,94.23 411.32,86.57 420.00,79.50 C428.68,72.43 442.42,62.00 446.90,58.50" fill="none" stroke="#1a1a1a" stroke-width="1.45" stroke-dasharray="1.5,1.9" stroke-linejoin="round" stroke-linecap="butt"/>
<path d="M301.80,194.20 C303.60,192.33 309.57,185.98 312.60,183.00 C315.63,180.02 316.97,179.05 320.00,176.30 C323.03,173.55 327.05,170.00 330.80,166.50 C334.55,163.00 338.73,159.22 342.50,155.30 C346.27,151.38 347.70,148.63 353.40,143.00 C359.10,137.37 369.38,127.78 376.70,121.50 C384.02,115.22 389.95,111.02 397.30,105.30 C404.65,99.58 412.53,93.32 420.80,87.20 C429.07,81.08 442.55,71.70 446.90,68.60" fill="none" stroke="#1a1a1a" stroke-width="1.7" stroke-dasharray="5,1.8" stroke-linejoin="round" stroke-linecap="butt"/>
<path d="M303.20,195.90 C307.67,190.70 321.63,174.18 330.00,164.70 C338.37,155.22 345.62,147.37 353.40,139.00 C361.18,130.63 369.90,121.12 376.70,114.50 C383.50,107.88 389.33,103.38 394.20,99.30 C399.07,95.22 400.60,94.13 405.90,90.00 C411.20,85.87 419.17,79.82 426.00,74.50 C432.83,69.18 443.42,60.83 446.90,58.10" fill="none" stroke="#c8321e" stroke-width="2.2" stroke-linejoin="round" stroke-linecap="butt"/>
<path d="M567.0,157.5 L664.0,52.6" fill="none" stroke="#5b9bd5" stroke-width="1.45" stroke-linejoin="round" stroke-linecap="butt"/>
<path d="M573.5,150.5 L679.7,52.6" fill="none" stroke="#1a1a1a" stroke-width="1.45" stroke-dasharray="1.5,1.9" stroke-linejoin="round" stroke-linecap="butt"/>
<path d="M551.1,171.3 L661.0,54.0" fill="none" stroke="#1a1a1a" stroke-width="1.7" stroke-dasharray="5,1.8" stroke-linejoin="round" stroke-linecap="butt"/>
<path d="M555.7,173.9 L654.2,52.1" fill="none" stroke="#c8321e" stroke-width="2.2" stroke-linejoin="round" stroke-linecap="butt"/>
<path d="M86.00,409.50 C97.40,399.28 132.95,367.58 154.40,348.20 C175.85,328.82 204.65,302.37 214.70,293.20" fill="none" stroke="#5b9bd5" stroke-width="1.45" stroke-linejoin="round" stroke-linecap="butt"/>
<path d="M84.30,411.80 C90.25,406.25 108.32,388.80 120.00,378.50 C131.68,368.20 143.22,359.52 154.40,350.00 C165.58,340.48 181.65,326.17 187.10,321.40" fill="none" stroke="#1a1a1a" stroke-width="1.45" stroke-dasharray="1.5,1.9" stroke-linejoin="round" stroke-linecap="butt"/>
<path d="M80.80,407.50 C83.73,405.02 91.58,398.10 98.40,392.60 C105.22,387.10 114.35,379.80 121.70,374.50 C129.05,369.20 137.05,364.13 142.50,360.80 C147.95,357.47 149.58,356.92 154.40,354.50 C159.22,352.08 165.07,348.77 171.40,346.30 C177.73,343.83 185.18,341.37 192.40,339.70 C199.62,338.03 210.98,336.87 214.70,336.30" fill="none" stroke="#1a1a1a" stroke-width="1.7" stroke-dasharray="5,1.8" stroke-linejoin="round" stroke-linecap="butt"/>
<path d="M85.3,409.6 L214.7,285.9" fill="none" stroke="#c8321e" stroke-width="2.2" stroke-linejoin="round" stroke-linecap="butt"/>
<path d="M323.00,404.00 C338.55,386.88 396.97,321.97 416.30,301.30 C435.63,280.63 435.22,283.55 439.00,280.00" fill="none" stroke="#5b9bd5" stroke-width="1.45" stroke-linejoin="round" stroke-linecap="butt"/>
<path d="M327.30,403.50 C329.33,400.48 334.55,392.32 339.50,385.40 C344.45,378.48 351.35,369.20 357.00,362.00 C362.65,354.80 367.37,348.82 373.40,342.20 C379.43,335.58 385.93,329.17 393.20,322.30 C400.47,315.43 408.63,307.95 417.00,301.00 C425.37,294.05 439.00,284.00 443.40,280.60" fill="none" stroke="#1a1a1a" stroke-width="1.45" stroke-dasharray="1.5,1.9" stroke-linejoin="round" stroke-linecap="butt"/>
<path d="M320.30,399.40 C323.32,395.52 332.47,383.50 338.40,376.10 C344.33,368.70 350.07,361.62 355.90,355.00 C361.73,348.38 367.77,341.85 373.40,336.40 C379.03,330.95 382.42,328.10 389.70,322.30 C396.98,316.50 409.02,307.23 417.10,301.60 C425.18,295.97 433.15,291.55 438.20,288.50 C443.25,285.45 445.87,284.17 447.40,283.30" fill="none" stroke="#1a1a1a" stroke-width="1.7" stroke-dasharray="5,1.8" stroke-linejoin="round" stroke-linecap="butt"/>
<path d="M322.0,404.8 L436.2,280.1" fill="none" stroke="#c8321e" stroke-width="2.2" stroke-linejoin="round" stroke-linecap="butt"/>
<path d="M542.3,410.0 L679.7,309.5" fill="none" stroke="#5b9bd5" stroke-width="1.45" stroke-linejoin="round" stroke-linecap="butt"/>
<path d="M541.5,412.0 L679.7,289.8" fill="none" stroke="#1a1a1a" stroke-width="1.45" stroke-dasharray="1.5,1.9" stroke-linejoin="round" stroke-linecap="butt"/>
<path d="M537.4,413.3 L679.7,295.9" fill="none" stroke="#1a1a1a" stroke-width="1.7" stroke-dasharray="5,1.8" stroke-linejoin="round" stroke-linecap="butt"/>
<path d="M540.5,414.7 L679.7,281.9" fill="none" stroke="#c8321e" stroke-width="2.2" stroke-linejoin="round" stroke-linecap="butt"/>
<path d="M47.80,595.30 L50.20,618.60 L54.20,650.00 L56.80,661.20 L60.30,671.50 L63.90,681.70 L67.50,687.80 L71.60,692.40 L75.70,695.50 L83.80,696.50 L92.00,697.20 L100.20,698.50 L110.00,700.70 L122.30,703.80 L134.50,707.60 L143.70,710.30 L151.40,714.50 L159.00,718.30 L163.60,722.20 L168.20,726.80 L172.10,727.50 L175.90,731.30 L180.50,736.70 L185.10,739.00 L188.90,742.10 L192.80,747.40 L195.80,750.20 L199.70,755.10 L203.50,759.70 L206.60,759.70 L212.70,760.90 L205.50,761.40 L203.00,761.40 L200.40,761.40 L195.80,761.40 L192.80,761.20 L189.70,755.10 L186.60,749.00 L182.00,742.80 L174.40,735.20 L166.70,727.50 L162.10,722.20 L152.90,716.80 L140.70,710.70 L125.30,706.40 L110.00,703.00 L100.20,700.60 L92.00,699.60 L83.80,698.00 L75.70,697.00 L71.60,695.50 L66.50,696.50 L63.90,692.90 L60.30,685.80 L58.30,677.60 L56.80,670.40 L54.20,650.00 L50.20,618.60 L47.80,595.30Z" fill="#f3d3cf" stroke="none"/>
<path d="M47.80,595.30 L50.20,618.60 L53.00,645.00 L54.70,660.20 L56.80,673.50 L59.30,690.90 L61.10,700.00 L62.80,707.00 L64.60,714.00 L68.10,719.90 L70.40,724.50 L72.80,731.00 L78.00,737.40 L80.40,744.40 L85.00,748.50 L89.70,752.00 L95.00,755.80 L99.60,757.20 L103.70,760.10 L108.40,760.70 L130.00,761.30 L133.00,761.40 L137.60,761.40 L145.00,761.40 L150.00,761.30 L212.70,761.30 L212.70,761.30 L72.20,761.30 L69.30,761.40 L66.90,757.20 L64.00,749.00 L61.70,738.50 L59.90,726.90 L58.20,711.70 L57.00,700.00 L55.50,675.00 L53.00,645.00 L50.00,618.00 L47.80,595.30Z" fill="#dce8f5" stroke="none"/>
<path d="M47.80,595.30 C48.20,599.18 49.33,610.32 50.20,618.60 C51.07,626.88 52.25,638.07 53.00,645.00 C53.75,651.93 54.07,655.45 54.70,660.20 C55.33,664.95 56.03,668.38 56.80,673.50 C57.57,678.62 58.58,686.48 59.30,690.90 C60.02,695.32 60.52,697.32 61.10,700.00 C61.68,702.68 62.22,704.67 62.80,707.00 C63.38,709.33 63.72,711.85 64.60,714.00 C65.48,716.15 67.13,718.15 68.10,719.90 C69.07,721.65 69.62,722.65 70.40,724.50 C71.18,726.35 71.53,728.85 72.80,731.00 C74.07,733.15 76.73,735.17 78.00,737.40 C79.27,739.63 79.23,742.55 80.40,744.40 C81.57,746.25 83.45,747.23 85.00,748.50 C86.55,749.77 88.03,750.78 89.70,752.00 C91.37,753.22 93.35,754.93 95.00,755.80 C96.65,756.67 98.15,756.48 99.60,757.20 C101.05,757.92 102.23,759.52 103.70,760.10 C105.17,760.68 104.02,760.50 108.40,760.70 C112.78,760.90 125.90,761.00 130.00,761.30 C134.10,761.60 131.73,762.25 133.00,762.50 C134.27,762.75 135.60,762.83 137.60,762.80 C139.60,762.77 142.93,762.55 145.00,762.30 C147.07,762.05 138.72,761.47 150.00,761.30 C161.28,761.13 202.25,761.30 212.70,761.30" fill="none" stroke="#5b9bd5" stroke-width="2.0" stroke-linejoin="round" stroke-linecap="butt"/>
<path d="M47.80,595.30 C48.17,599.08 49.13,609.72 50.00,618.00 C50.87,626.28 52.08,635.50 53.00,645.00 C53.92,654.50 54.83,665.83 55.50,675.00 C56.17,684.17 56.55,693.88 57.00,700.00 C57.45,706.12 57.72,707.22 58.20,711.70 C58.68,716.18 59.32,722.43 59.90,726.90 C60.48,731.37 61.02,734.82 61.70,738.50 C62.38,742.18 63.13,745.88 64.00,749.00 C64.87,752.12 66.02,754.95 66.90,757.20 C67.78,759.45 68.42,761.82 69.30,762.50 C70.18,763.18 48.30,761.50 72.20,761.30 C96.10,761.10 189.28,761.30 212.70,761.30" fill="none" stroke="#1a1a1a" stroke-width="1.45" stroke-dasharray="1.5,1.9" stroke-linejoin="round" stroke-linecap="butt"/>
<line x1="47.80" y1="761.40" x2="213.00" y2="761.40" stroke="#c2b0b0" stroke-width="1.6" stroke-dasharray="4.6,2"/>
<path d="M47.80,595.30 C48.20,599.18 49.13,609.48 50.20,618.60 C51.27,627.72 53.10,641.37 54.20,650.00 C55.30,658.63 56.12,665.80 56.80,670.40 C57.48,675.00 57.72,675.03 58.30,677.60 C58.88,680.17 59.37,683.25 60.30,685.80 C61.23,688.35 62.87,691.12 63.90,692.90 C64.93,694.68 65.22,696.07 66.50,696.50 C67.78,696.93 70.07,695.42 71.60,695.50 C73.13,695.58 73.67,696.58 75.70,697.00 C77.73,697.42 81.08,697.57 83.80,698.00 C86.52,698.43 89.27,699.17 92.00,699.60 C94.73,700.03 97.20,700.03 100.20,700.60 C103.20,701.17 105.82,702.03 110.00,703.00 C114.18,703.97 120.18,705.12 125.30,706.40 C130.42,707.68 136.10,708.97 140.70,710.70 C145.30,712.43 149.33,714.88 152.90,716.80 C156.47,718.72 159.80,720.42 162.10,722.20 C164.40,723.98 164.65,725.33 166.70,727.50 C168.75,729.67 171.85,732.65 174.40,735.20 C176.95,737.75 179.97,740.50 182.00,742.80 C184.03,745.10 185.32,746.95 186.60,749.00 C187.88,751.05 188.67,753.07 189.70,755.10 C190.73,757.13 191.78,759.53 192.80,761.20 C193.82,762.87 194.53,764.02 195.80,765.10 C197.07,766.18 199.20,767.35 200.40,767.70 C201.60,768.05 202.15,767.02 203.00,767.20 C203.85,767.38 205.08,768.53 205.50,768.80" fill="none" stroke="#1a1a1a" stroke-width="1.7" stroke-dasharray="5,1.8" stroke-linejoin="round" stroke-linecap="butt"/>
<path d="M47.80,595.30 C48.20,599.18 49.13,609.48 50.20,618.60 C51.27,627.72 53.10,642.90 54.20,650.00 C55.30,657.10 55.78,657.62 56.80,661.20 C57.82,664.78 59.12,668.08 60.30,671.50 C61.48,674.92 62.70,678.98 63.90,681.70 C65.10,684.42 66.22,686.02 67.50,687.80 C68.78,689.58 70.23,691.12 71.60,692.40 C72.97,693.68 73.67,694.82 75.70,695.50 C77.73,696.18 81.08,696.22 83.80,696.50 C86.52,696.78 89.27,696.87 92.00,697.20 C94.73,697.53 97.20,697.92 100.20,698.50 C103.20,699.08 106.32,699.82 110.00,700.70 C113.68,701.58 118.22,702.65 122.30,703.80 C126.38,704.95 130.93,706.52 134.50,707.60 C138.07,708.68 140.88,709.15 143.70,710.30 C146.52,711.45 148.85,713.17 151.40,714.50 C153.95,715.83 156.97,717.02 159.00,718.30 C161.03,719.58 162.07,720.78 163.60,722.20 C165.13,723.62 166.78,725.92 168.20,726.80 C169.62,727.68 170.82,726.75 172.10,727.50 C173.38,728.25 174.50,729.77 175.90,731.30 C177.30,732.83 178.97,735.42 180.50,736.70 C182.03,737.98 183.70,738.10 185.10,739.00 C186.50,739.90 187.62,740.70 188.90,742.10 C190.18,743.50 191.65,746.05 192.80,747.40 C193.95,748.75 194.65,748.92 195.80,750.20 C196.95,751.48 198.42,753.52 199.70,755.10 C200.98,756.68 202.35,758.93 203.50,759.70 C204.65,760.47 205.07,759.50 206.60,759.70 C208.13,759.90 211.68,760.70 212.70,760.90" fill="none" stroke="#c8321e" stroke-width="2.0" stroke-linejoin="round" stroke-linecap="butt"/>
<path d="M47.9,595.3 L60.3,769.6" fill="none" stroke="#b3a5a5" stroke-width="2.3" stroke-linejoin="round" stroke-linecap="butt"/>
<path d="M280.00,595.30 L280.37,597.23 L280.71,599.28 L281.07,601.33 L281.45,603.36 L281.84,605.39 L282.25,607.40 L282.68,609.41 L283.13,611.41 L283.60,613.40 L284.08,615.38 L284.57,617.35 L285.09,619.31 L285.62,621.27 L286.17,623.22 L286.73,625.16 L287.31,627.09 L287.90,629.02 L288.51,630.94 L289.13,632.85 L289.77,634.76 L290.43,636.66 L291.10,638.55 L291.78,640.44 L292.48,642.32 L293.19,644.19 L293.91,646.07 L294.65,647.93 L295.40,649.79 L296.17,651.65 L296.95,653.50 L297.74,655.35 L298.55,657.19 L299.36,659.03 L300.19,660.86 L301.04,662.69 L301.89,664.52 L302.76,666.34 L303.64,668.16 L304.52,669.98 L305.43,671.80 L306.34,673.61 L307.26,675.42 L308.19,677.23 L309.14,679.04 L310.09,680.84 L311.06,682.64 L312.04,684.44 L313.03,686.24 L314.03,688.03 L315.04,689.81 L316.07,691.59 L317.11,693.35 L318.17,695.11 L319.24,696.86 L320.33,698.60 L321.43,700.32 L322.55,702.03 L323.69,703.73 L324.85,705.41 L326.03,707.08 L327.22,708.73 L328.43,710.36 L329.67,711.97 L330.92,713.56 L332.20,715.13 L333.50,716.68 L334.82,718.20 L336.16,719.70 L337.53,721.18 L338.92,722.63 L340.34,724.05 L341.78,725.44 L343.25,726.81 L344.74,728.15 L346.27,729.45 L347.81,730.72 L349.39,731.96 L350.99,733.17 L352.62,734.34 L354.28,735.48 L355.96,736.57 L357.66,737.63 L359.39,738.65 L361.14,739.62 L362.92,740.56 L364.72,741.45 L366.54,742.29 L368.39,743.09 L370.25,743.85 L372.14,744.55 L374.04,745.22 L375.96,745.85 L377.90,746.44 L379.85,747.00 L381.81,747.53 L383.78,748.03 L385.76,748.51 L387.75,748.98 L389.74,749.42 L391.74,749.85 L393.74,750.27 L395.74,750.69 L397.74,751.09 L399.74,751.49 L401.74,751.89 L403.73,752.28 L405.73,752.68 L407.73,753.06 L409.73,753.45 L411.72,753.84 L413.72,754.23 L415.71,754.62 L417.70,755.01 L419.69,755.41 L421.68,755.81 L423.67,756.22 L425.65,756.63 L427.63,757.05 L429.61,757.47 L431.58,757.91 L433.55,758.35 L435.52,758.81 L437.49,759.28 L439.45,759.76 L441.40,760.25 L443.35,760.76 L445.40,761.00 L445.40,761.00 L443.34,761.03 L441.37,760.66 L439.40,760.28 L437.43,759.90 L435.46,759.52 L433.49,759.14 L431.52,758.76 L429.55,758.37 L427.57,757.99 L425.60,757.60 L423.62,757.21 L421.65,756.82 L419.67,756.43 L417.69,756.03 L415.71,755.64 L413.73,755.24 L411.75,754.83 L409.77,754.43 L407.79,754.02 L405.81,753.61 L403.82,753.20 L401.84,752.79 L399.86,752.37 L397.87,751.95 L395.89,751.52 L393.90,751.10 L391.92,750.66 L389.93,750.23 L387.95,749.78 L385.97,749.32 L384.00,748.84 L382.03,748.35 L380.08,747.83 L378.13,747.29 L376.20,746.71 L374.28,746.11 L372.37,745.47 L370.48,744.80 L368.61,744.08 L366.75,743.32 L364.92,742.51 L363.11,741.67 L361.32,740.77 L359.55,739.84 L357.81,738.86 L356.09,737.85 L354.40,736.79 L352.73,735.68 L351.09,734.54 L349.48,733.36 L347.90,732.13 L346.35,730.87 L344.83,729.56 L343.34,728.22 L341.88,726.84 L340.45,725.43 L339.04,723.99 L337.66,722.51 L336.31,721.01 L334.98,719.49 L333.67,717.94 L332.38,716.37 L331.12,714.79 L329.88,713.18 L328.66,711.56 L327.45,709.93 L326.26,708.29 L325.10,706.64 L323.94,704.98 L322.81,703.30 L321.69,701.62 L320.59,699.93 L319.50,698.23 L318.43,696.52 L317.37,694.80 L316.33,693.07 L315.30,691.34 L314.29,689.60 L313.29,687.85 L312.30,686.09 L311.32,684.33 L310.36,682.56 L309.40,680.78 L308.46,679.00 L307.53,677.21 L306.61,675.42 L305.71,673.62 L304.81,671.81 L303.93,670.00 L303.05,668.19 L302.19,666.37 L301.34,664.54 L300.51,662.71 L299.68,660.87 L298.87,659.02 L298.08,657.17 L297.29,655.32 L296.52,653.46 L295.76,651.59 L295.01,649.72 L294.28,647.84 L293.56,645.96 L292.86,644.07 L292.16,642.18 L291.49,640.28 L290.82,638.38 L290.17,636.47 L289.54,634.56 L288.92,632.64 L288.31,630.72 L287.72,628.79 L287.14,626.86 L286.58,624.92 L286.03,622.97 L285.50,621.02 L284.99,619.07 L284.49,617.11 L284.00,615.15 L283.53,613.18 L283.08,611.21 L282.64,609.23 L282.22,607.25 L281.82,605.26 L281.43,603.27 L281.06,601.27 L280.70,599.27 L280.36,597.27 L280.00,595.30Z" fill="#f3d3cf" stroke="none"/>
<path d="M280.00,595.30 L280.45,597.26 L280.84,599.23 L281.23,601.21 L281.63,603.19 L282.02,605.18 L282.42,607.16 L282.83,609.15 L283.23,611.13 L283.65,613.12 L284.07,615.10 L284.49,617.08 L284.92,619.07 L285.36,621.05 L285.81,623.03 L286.26,625.01 L286.72,626.99 L287.20,628.96 L287.68,630.93 L288.17,632.90 L288.68,634.86 L289.19,636.82 L289.72,638.78 L290.26,640.73 L290.82,642.67 L291.39,644.62 L291.97,646.55 L292.57,648.48 L293.19,650.40 L293.82,652.32 L294.46,654.23 L295.13,656.13 L295.81,658.03 L296.51,659.91 L297.23,661.79 L297.97,663.66 L298.73,665.52 L299.51,667.37 L300.31,669.21 L301.14,671.05 L301.98,672.87 L302.85,674.68 L303.74,676.48 L304.66,678.27 L305.60,680.05 L306.57,681.81 L307.56,683.56 L308.58,685.30 L309.62,687.04 L310.68,688.76 L311.75,690.47 L312.84,692.18 L313.94,693.89 L315.05,695.59 L316.17,697.29 L317.29,699.00 L318.41,700.70 L319.53,702.41 L320.65,704.12 L321.76,705.83 L322.87,707.56 L323.96,709.29 L325.04,711.03 L326.10,712.79 L327.14,714.56 L328.18,716.33 L329.21,718.10 L330.24,719.85 L331.29,721.59 L332.37,723.29 L333.48,724.95 L334.62,726.56 L335.82,728.12 L337.08,729.60 L338.40,731.01 L339.80,732.33 L341.28,733.56 L342.84,734.71 L344.46,735.77 L346.15,736.78 L347.88,737.72 L349.66,738.62 L351.48,739.48 L353.32,740.32 L355.18,741.13 L357.05,741.94 L358.92,742.75 L360.79,743.57 L362.66,744.39 L364.53,745.20 L366.40,746.01 L368.28,746.81 L370.15,747.60 L372.03,748.37 L373.92,749.13 L375.80,749.87 L377.70,750.58 L379.60,751.27 L381.50,751.92 L383.41,752.55 L385.33,753.14 L387.26,753.69 L389.20,754.21 L391.15,754.68 L393.10,755.12 L395.06,755.52 L397.03,755.89 L399.01,756.23 L400.99,756.53 L402.97,756.81 L404.97,757.06 L406.97,757.28 L408.97,757.47 L410.98,757.64 L412.99,757.79 L415.01,757.91 L417.02,758.02 L419.05,758.11 L421.07,758.17 L423.10,758.23 L425.13,758.26 L427.16,758.29 L429.19,758.30 L431.22,758.30 L433.25,758.29 L435.28,758.28 L437.31,758.25 L439.34,758.23 L441.37,758.19 L443.40,758.16 L445.40,758.20 L445.40,759.50 L380.30,759.50 L378.63,758.90 L376.67,758.15 L374.73,757.37 L372.81,756.56 L370.91,755.72 L369.03,754.85 L367.17,753.94 L365.34,753.01 L363.53,752.04 L361.74,751.04 L359.97,750.02 L358.22,748.97 L356.50,747.89 L354.80,746.78 L353.12,745.64 L351.46,744.48 L349.82,743.29 L348.21,742.08 L346.61,740.84 L345.04,739.57 L343.50,738.29 L341.97,736.97 L340.47,735.64 L338.99,734.28 L337.53,732.90 L336.09,731.49 L334.67,730.07 L333.28,728.62 L331.91,727.16 L330.56,725.67 L329.24,724.16 L327.94,722.64 L326.66,721.09 L325.40,719.53 L324.16,717.95 L322.95,716.36 L321.76,714.74 L320.59,713.11 L319.45,711.46 L318.32,709.80 L317.22,708.13 L316.14,706.43 L315.09,704.73 L314.05,703.01 L313.03,701.27 L312.03,699.52 L311.06,697.76 L310.10,695.99 L309.17,694.20 L308.25,692.41 L307.35,690.60 L306.47,688.78 L305.61,686.95 L304.76,685.11 L303.94,683.25 L303.13,681.39 L302.34,679.52 L301.56,677.64 L300.80,675.75 L300.06,673.86 L299.34,671.95 L298.63,670.04 L297.93,668.12 L297.25,666.20 L296.59,664.27 L295.94,662.33 L295.30,660.38 L294.68,658.43 L294.07,656.48 L293.48,654.52 L292.89,652.56 L292.33,650.59 L291.77,648.62 L291.22,646.65 L290.69,644.67 L290.17,642.70 L289.66,640.71 L289.16,638.73 L288.68,636.75 L288.20,634.77 L287.73,632.78 L287.27,630.80 L286.83,628.81 L286.39,626.83 L285.96,624.84 L285.54,622.86 L285.13,620.88 L284.72,618.90 L284.33,616.93 L283.94,614.96 L283.56,612.99 L283.18,611.02 L282.81,609.06 L282.45,607.10 L282.10,605.14 L281.75,603.20 L281.40,601.25 L281.06,599.31 L280.73,597.38 L280.00,595.30Z" fill="#dce8f5" stroke="none"/>
<path d="M280.0,595.3 L315.2,769.6" fill="none" stroke="#b3a5a5" stroke-width="2.3" stroke-linejoin="round" stroke-linecap="butt"/>
<path d="M280.0,595.3 L280.5,597.3 L280.8,599.2 L281.2,601.2 L281.6,603.2 L282.0,605.2 L282.4,607.2 L282.8,609.1 L283.2,611.1 L283.6,613.1 L284.1,615.1 L284.5,617.1 L284.9,619.1 L285.4,621.1 L285.8,623.0 L286.3,625.0 L286.7,627.0 L287.2,629.0 L287.7,630.9 L288.2,632.9 L288.7,634.9 L289.2,636.8 L289.7,638.8 L290.3,640.7 L290.8,642.7 L291.4,644.6 L292.0,646.6 L292.6,648.5 L293.2,650.4 L293.8,652.3 L294.5,654.2 L295.1,656.1 L295.8,658.0 L296.5,659.9 L297.2,661.8 L298.0,663.7 L298.7,665.5 L299.5,667.4 L300.3,669.2 L301.1,671.0 L302.0,672.9 L302.9,674.7 L303.7,676.5 L304.7,678.3 L305.6,680.0 L306.6,681.8 L307.6,683.6 L308.6,685.3 L309.6,687.0 L310.7,688.8 L311.8,690.5 L312.8,692.2 L313.9,693.9 L315.1,695.6 L316.2,697.3 L317.3,699.0 L318.4,700.7 L319.5,702.4 L320.7,704.1 L321.8,705.8 L322.9,707.6 L324.0,709.3 L325.0,711.0 L326.1,712.8 L327.1,714.6 L328.2,716.3 L329.2,718.1 L330.2,719.9 L331.3,721.6 L332.4,723.3 L333.5,725.0 L334.6,726.6 L335.8,728.1 L337.1,729.6 L338.4,731.0 L339.8,732.3 L341.3,733.6 L342.8,734.7 L344.5,735.8 L346.1,736.8 L347.9,737.7 L349.7,738.6 L351.5,739.5 L353.3,740.3 L355.2,741.1 L357.0,741.9 L358.9,742.8 L360.8,743.6 L362.7,744.4 L364.5,745.2 L366.4,746.0 L368.3,746.8 L370.2,747.6 L372.0,748.4 L373.9,749.1 L375.8,749.9 L377.7,750.6 L379.6,751.3 L381.5,751.9 L383.4,752.6 L385.3,753.1 L387.3,753.7 L389.2,754.2 L391.1,754.7 L393.1,755.1 L395.1,755.5 L397.0,755.9 L399.0,756.2 L401.0,756.5 L403.0,756.8 L405.0,757.1 L407.0,757.3 L409.0,757.5 L411.0,757.6 L413.0,757.8 L415.0,757.9 L417.0,758.0 L419.0,758.1 L421.1,758.2 L423.1,758.2 L425.1,758.3 L427.2,758.3 L429.2,758.3 L431.2,758.3 L433.2,758.3 L435.3,758.3 L437.3,758.3 L439.3,758.2 L441.4,758.2 L443.4,758.2 L445.4,758.2" fill="none" stroke="#5b9bd5" stroke-width="2.0" stroke-linejoin="round" stroke-linecap="butt"/>
<path d="M280.0,595.3 L280.7,597.4 L281.1,599.3 L281.4,601.3 L281.7,603.2 L282.1,605.1 L282.5,607.1 L282.8,609.1 L283.2,611.0 L283.6,613.0 L283.9,615.0 L284.3,616.9 L284.7,618.9 L285.1,620.9 L285.5,622.9 L286.0,624.8 L286.4,626.8 L286.8,628.8 L287.3,630.8 L287.7,632.8 L288.2,634.8 L288.7,636.7 L289.2,638.7 L289.7,640.7 L290.2,642.7 L290.7,644.7 L291.2,646.6 L291.8,648.6 L292.3,650.6 L292.9,652.6 L293.5,654.5 L294.1,656.5 L294.7,658.4 L295.3,660.4 L295.9,662.3 L296.6,664.3 L297.3,666.2 L297.9,668.1 L298.6,670.0 L299.3,672.0 L300.1,673.9 L300.8,675.8 L301.6,677.6 L302.3,679.5 L303.1,681.4 L303.9,683.3 L304.8,685.1 L305.6,686.9 L306.5,688.8 L307.3,690.6 L308.2,692.4 L309.2,694.2 L310.1,696.0 L311.1,697.8 L312.0,699.5 L313.0,701.3 L314.0,703.0 L315.1,704.7 L316.1,706.4 L317.2,708.1 L318.3,709.8 L319.4,711.5 L320.6,713.1 L321.8,714.7 L322.9,716.4 L324.2,718.0 L325.4,719.5 L326.7,721.1 L327.9,722.6 L329.2,724.2 L330.6,725.7 L331.9,727.2 L333.3,728.6 L334.7,730.1 L336.1,731.5 L337.5,732.9 L339.0,734.3 L340.5,735.6 L342.0,737.0 L343.5,738.3 L345.0,739.6 L346.6,740.8 L348.2,742.1 L349.8,743.3 L351.5,744.5 L353.1,745.6 L354.8,746.8 L356.5,747.9 L358.2,749.0 L360.0,750.0 L361.7,751.0 L363.5,752.0 L365.3,753.0 L367.2,753.9 L369.0,754.8 L370.9,755.7 L372.8,756.6 L374.7,757.4 L376.7,758.2 L378.6,758.9 L380.3,759.5 L445.4,759.5" fill="none" stroke="#1a1a1a" stroke-width="1.45" stroke-dasharray="1.5,1.9" stroke-linejoin="round" stroke-linecap="butt"/>
<line x1="279.80" y1="759.60" x2="445.00" y2="759.60" stroke="#c2b0b0" stroke-width="1.6" stroke-dasharray="4.6,2"/>
<path d="M280.0,595.3 L280.4,597.3 L280.7,599.3 L281.1,601.3 L281.4,603.3 L281.8,605.3 L282.2,607.2 L282.6,609.2 L283.1,611.2 L283.5,613.2 L284.0,615.1 L284.5,617.1 L285.0,619.1 L285.5,621.0 L286.0,623.0 L286.6,624.9 L287.1,626.9 L287.7,628.8 L288.3,630.7 L288.9,632.6 L289.5,634.6 L290.2,636.5 L290.8,638.4 L291.5,640.3 L292.2,642.2 L292.9,644.1 L293.6,646.0 L294.3,647.8 L295.0,649.7 L295.8,651.6 L296.5,653.5 L297.3,655.3 L298.1,657.2 L298.9,659.0 L299.7,660.9 L300.5,662.7 L301.3,664.5 L302.2,666.4 L303.1,668.2 L303.9,670.0 L304.8,671.8 L305.7,673.6 L306.6,675.4 L307.5,677.2 L308.5,679.0 L309.4,680.8 L310.4,682.6 L311.3,684.3 L312.3,686.1 L313.3,687.8 L314.3,689.6 L315.3,691.3 L316.3,693.1 L317.4,694.8 L318.4,696.5 L319.5,698.2 L320.6,699.9 L321.7,701.6 L322.8,703.3 L323.9,705.0 L325.1,706.6 L326.3,708.3 L327.5,709.9 L328.7,711.6 L329.9,713.2 L331.1,714.8 L332.4,716.4 L333.7,717.9 L335.0,719.5 L336.3,721.0 L337.7,722.5 L339.0,724.0 L340.4,725.4 L341.9,726.8 L343.3,728.2 L344.8,729.6 L346.4,730.9 L347.9,732.1 L349.5,733.4 L351.1,734.5 L352.7,735.7 L354.4,736.8 L356.1,737.8 L357.8,738.9 L359.6,739.8 L361.3,740.8 L363.1,741.7 L364.9,742.5 L366.8,743.3 L368.6,744.1 L370.5,744.8 L372.4,745.5 L374.3,746.1 L376.2,746.7 L378.1,747.3 L380.1,747.8 L382.0,748.3 L384.0,748.8 L386.0,749.3 L388.0,749.8 L389.9,750.2 L391.9,750.7 L393.9,751.1 L395.9,751.5 L397.9,751.9 L399.9,752.4 L401.8,752.8 L403.8,753.2 L405.8,753.6 L407.8,754.0 L409.8,754.4 L411.8,754.8 L413.7,755.2 L415.7,755.6 L417.7,756.0 L419.7,756.4 L421.6,756.8 L423.6,757.2 L425.6,757.6 L427.6,758.0 L429.5,758.4 L431.5,758.8 L433.5,759.1 L435.5,759.5 L437.4,759.9 L439.4,760.3 L441.4,760.7 L443.3,761.0 L445.4,761.0" fill="none" stroke="#1a1a1a" stroke-width="1.7" stroke-dasharray="5,1.8" stroke-linejoin="round" stroke-linecap="butt"/>
<path d="M280.0,595.3 L280.4,597.2 L280.7,599.3 L281.1,601.3 L281.4,603.4 L281.8,605.4 L282.3,607.4 L282.7,609.4 L283.1,611.4 L283.6,613.4 L284.1,615.4 L284.6,617.3 L285.1,619.3 L285.6,621.3 L286.2,623.2 L286.7,625.2 L287.3,627.1 L287.9,629.0 L288.5,630.9 L289.1,632.8 L289.8,634.8 L290.4,636.7 L291.1,638.5 L291.8,640.4 L292.5,642.3 L293.2,644.2 L293.9,646.1 L294.7,647.9 L295.4,649.8 L296.2,651.6 L296.9,653.5 L297.7,655.3 L298.5,657.2 L299.4,659.0 L300.2,660.9 L301.0,662.7 L301.9,664.5 L302.8,666.3 L303.6,668.2 L304.5,670.0 L305.4,671.8 L306.3,673.6 L307.3,675.4 L308.2,677.2 L309.1,679.0 L310.1,680.8 L311.1,682.6 L312.0,684.4 L313.0,686.2 L314.0,688.0 L315.0,689.8 L316.1,691.6 L317.1,693.4 L318.2,695.1 L319.2,696.9 L320.3,698.6 L321.4,700.3 L322.6,702.0 L323.7,703.7 L324.9,705.4 L326.0,707.1 L327.2,708.7 L328.4,710.4 L329.7,712.0 L330.9,713.6 L332.2,715.1 L333.5,716.7 L334.8,718.2 L336.2,719.7 L337.5,721.2 L338.9,722.6 L340.3,724.0 L341.8,725.4 L343.3,726.8 L344.7,728.1 L346.3,729.5 L347.8,730.7 L349.4,732.0 L351.0,733.2 L352.6,734.3 L354.3,735.5 L356.0,736.6 L357.7,737.6 L359.4,738.6 L361.1,739.6 L362.9,740.6 L364.7,741.4 L366.5,742.3 L368.4,743.1 L370.3,743.8 L372.1,744.6 L374.0,745.2 L376.0,745.8 L377.9,746.4 L379.8,747.0 L381.8,747.5 L383.8,748.0 L385.8,748.5 L387.7,749.0 L389.7,749.4 L391.7,749.9 L393.7,750.3 L395.7,750.7 L397.7,751.1 L399.7,751.5 L401.7,751.9 L403.7,752.3 L405.7,752.7 L407.7,753.1 L409.7,753.5 L411.7,753.8 L413.7,754.2 L415.7,754.6 L417.7,755.0 L419.7,755.4 L421.7,755.8 L423.7,756.2 L425.6,756.6 L427.6,757.0 L429.6,757.5 L431.6,757.9 L433.6,758.4 L435.5,758.8 L437.5,759.3 L439.4,759.8 L441.4,760.3 L443.4,760.8 L445.4,761.0" fill="none" stroke="#c8321e" stroke-width="2.0" stroke-linejoin="round" stroke-linecap="butt"/>
<path d="M512.00,595.30 L512.69,597.20 L513.21,599.14 L513.73,601.08 L514.23,603.03 L514.74,604.98 L515.23,606.94 L515.72,608.90 L516.21,610.86 L516.69,612.82 L517.17,614.79 L517.65,616.75 L518.12,618.72 L518.60,620.69 L519.07,622.66 L519.55,624.63 L520.02,626.60 L520.50,628.57 L520.98,630.54 L521.47,632.51 L521.96,634.48 L522.45,636.44 L522.95,638.40 L523.45,640.36 L523.97,642.32 L524.49,644.28 L525.02,646.23 L525.55,648.18 L526.10,650.12 L526.66,652.06 L527.23,653.99 L527.81,655.92 L528.41,657.85 L529.01,659.76 L529.64,661.68 L530.27,663.58 L530.93,665.48 L531.60,667.37 L532.28,669.26 L532.99,671.13 L533.71,673.00 L534.45,674.86 L535.21,676.71 L536.00,678.56 L536.80,680.39 L537.63,682.21 L538.47,684.02 L539.35,685.83 L540.24,687.62 L541.17,689.40 L542.11,691.17 L543.09,692.92 L544.09,694.67 L545.12,696.40 L546.17,698.12 L547.25,699.83 L548.36,701.52 L549.49,703.20 L550.65,704.86 L551.83,706.51 L553.03,708.14 L554.26,709.76 L555.52,711.36 L556.79,712.95 L558.09,714.52 L559.41,716.07 L560.75,717.60 L562.11,719.12 L563.49,720.62 L564.89,722.09 L566.31,723.55 L567.76,724.99 L569.22,726.41 L570.69,727.81 L572.19,729.19 L573.71,730.54 L575.24,731.88 L576.79,733.19 L578.35,734.48 L579.93,735.75 L581.53,737.00 L583.14,738.22 L584.76,739.41 L586.41,740.58 L588.06,741.72 L589.74,742.83 L591.43,743.91 L593.13,744.95 L594.86,745.96 L596.59,746.93 L598.35,747.86 L600.12,748.76 L601.91,749.60 L603.72,750.41 L605.55,751.17 L607.39,751.88 L609.25,752.54 L611.13,753.15 L613.03,753.71 L614.95,754.21 L616.88,754.65 L618.84,755.04 L620.81,755.37 L622.80,755.64 L624.82,755.84 L626.85,755.98 L628.90,756.05 L630.98,756.06 L633.07,756.01 L635.16,755.94 L637.26,755.87 L639.35,755.83 L641.42,755.85 L643.47,755.95 L645.49,756.16 L647.47,756.50 L649.44,756.90 L651.38,757.33 L653.33,757.74 L655.29,758.06 L657.27,758.29 L659.26,758.45 L661.26,758.55 L663.27,758.62 L665.27,758.67 L667.28,758.74 L669.28,758.84 L671.27,759.00 L673.24,759.24 L675.20,759.57 L677.10,760.30 L677.10,760.30 L675.04,760.56 L673.01,760.52 L670.99,760.44 L668.98,760.33 L666.97,760.19 L664.97,760.02 L662.97,759.82 L660.98,759.60 L658.99,759.36 L657.00,759.10 L655.01,758.82 L653.02,758.53 L651.04,758.23 L649.06,757.91 L647.07,757.59 L645.09,757.27 L643.10,756.94 L641.12,756.61 L639.13,756.29 L637.14,755.97 L635.14,755.65 L633.14,755.35 L631.14,755.05 L629.13,754.77 L627.12,754.51 L625.10,754.27 L623.08,754.04 L621.05,753.84 L619.02,753.65 L616.98,753.46 L614.95,753.26 L612.93,753.05 L610.91,752.81 L608.91,752.54 L606.91,752.24 L604.94,751.88 L602.98,751.47 L601.05,751.00 L599.14,750.47 L597.25,749.88 L595.38,749.24 L593.55,748.53 L591.74,747.77 L589.95,746.94 L588.20,746.06 L586.49,745.11 L584.80,744.10 L583.15,743.02 L581.54,741.89 L579.96,740.69 L578.42,739.42 L576.92,738.10 L575.44,736.73 L574.00,735.32 L572.57,733.87 L571.17,732.39 L569.79,730.88 L568.41,729.35 L567.05,727.81 L565.70,726.27 L564.35,724.72 L563.01,723.16 L561.68,721.61 L560.36,720.04 L559.05,718.47 L557.75,716.89 L556.47,715.30 L555.21,713.71 L553.97,712.10 L552.75,710.48 L551.54,708.86 L550.37,707.21 L549.22,705.56 L548.10,703.89 L547.00,702.21 L545.94,700.51 L544.90,698.79 L543.90,697.06 L542.92,695.32 L541.97,693.56 L541.05,691.79 L540.15,690.00 L539.28,688.20 L538.44,686.39 L537.61,684.57 L536.81,682.73 L536.04,680.89 L535.28,679.03 L534.55,677.17 L533.83,675.29 L533.13,673.40 L532.45,671.51 L531.79,669.61 L531.15,667.70 L530.52,665.78 L529.91,663.85 L529.31,661.92 L528.73,659.98 L528.16,658.04 L527.60,656.09 L527.05,654.13 L526.51,652.17 L525.98,650.21 L525.46,648.24 L524.95,646.27 L524.45,644.30 L523.96,642.32 L523.47,640.34 L522.98,638.37 L522.50,636.39 L522.03,634.40 L521.55,632.42 L521.08,630.44 L520.61,628.46 L520.14,626.49 L519.67,624.51 L519.20,622.53 L518.73,620.56 L518.25,618.59 L517.78,616.63 L517.29,614.66 L516.81,612.70 L516.31,610.75 L515.81,608.80 L515.31,606.86 L514.79,604.92 L514.27,602.99 L513.74,601.07 L513.20,599.15 L512.65,597.24 L512.00,595.30Z" fill="#f3d3cf" stroke="none"/>
<path d="M512.00,595.30 L512.65,597.21 L513.27,599.13 L513.86,601.05 L514.44,602.98 L514.99,604.92 L515.52,606.86 L516.03,608.81 L516.52,610.77 L516.99,612.73 L517.46,614.69 L517.90,616.66 L518.34,618.63 L518.77,620.61 L519.19,622.59 L519.60,624.57 L520.01,626.55 L520.41,628.53 L520.82,630.52 L521.22,632.50 L521.62,634.48 L522.03,636.47 L522.43,638.45 L522.85,640.43 L523.27,642.40 L523.70,644.37 L524.15,646.34 L524.60,648.31 L525.07,650.27 L525.55,652.23 L526.05,654.18 L526.56,656.12 L527.10,658.06 L527.66,659.99 L528.23,661.91 L528.82,663.83 L529.43,665.74 L530.06,667.65 L530.71,669.55 L531.38,671.44 L532.06,673.33 L532.76,675.21 L533.48,677.09 L534.21,678.96 L534.96,680.82 L535.72,682.68 L536.51,684.54 L537.30,686.39 L538.11,688.24 L538.94,690.08 L539.78,691.91 L540.64,693.74 L541.51,695.57 L542.40,697.39 L543.30,699.21 L544.21,701.02 L545.14,702.83 L546.08,704.63 L547.03,706.43 L548.00,708.21 L548.99,709.99 L550.00,711.75 L551.03,713.50 L552.08,715.23 L553.16,716.94 L554.26,718.63 L555.39,720.29 L556.55,721.93 L557.74,723.54 L558.96,725.12 L560.22,726.66 L561.51,728.17 L562.84,729.64 L564.21,731.08 L565.61,732.47 L567.06,733.81 L568.56,735.11 L570.09,736.36 L571.68,737.56 L573.31,738.71 L574.99,739.80 L576.72,740.84 L578.51,741.81 L580.34,742.73 L582.22,743.59 L584.12,744.39 L586.06,745.13 L588.01,745.82 L589.97,746.46 L591.94,747.04 L593.90,747.57 L595.86,748.05 L597.80,748.49 L599.72,748.91 L601.64,749.32 L603.56,749.75 L605.46,750.21 L607.36,750.72 L609.27,751.29 L611.17,751.89 L613.08,752.48 L615.01,753.02 L616.94,753.52 L618.89,753.97 L620.84,754.38 L622.81,754.74 L624.78,755.07 L626.76,755.37 L628.75,755.63 L630.74,755.86 L632.74,756.07 L634.75,756.25 L636.76,756.41 L638.78,756.54 L640.80,756.66 L642.82,756.77 L644.84,756.87 L646.87,756.95 L648.90,757.03 L650.93,757.11 L652.96,757.18 L654.98,757.25 L657.01,757.33 L659.04,757.42 L661.06,757.51 L663.08,757.61 L665.09,757.73 L667.10,757.86 L669.11,758.02 L671.11,758.19 L673.11,758.39 L675.09,758.62 L677.10,758.80 L677.10,759.30 L605.50,759.30 L603.51,758.86 L601.60,758.24 L599.75,757.46 L597.94,756.56 L596.17,755.56 L594.43,754.49 L592.70,753.36 L590.99,752.20 L589.27,751.04 L587.54,749.90 L585.79,748.82 L584.02,747.80 L582.21,746.88 L580.35,746.09 L578.44,745.43 L576.48,744.93 L574.49,744.58 L572.48,744.38 L570.48,744.32 L568.54,744.21 L566.75,743.79 L565.16,742.97 L563.75,741.85 L562.52,740.48 L561.45,738.93 L560.52,737.25 L559.70,735.44 L558.97,733.55 L558.29,731.59 L557.65,729.59 L557.00,727.57 L556.34,725.55 L555.62,723.57 L554.84,721.63 L554.02,719.72 L553.15,717.84 L552.24,715.98 L551.30,714.15 L550.33,712.34 L549.33,710.55 L548.32,708.78 L547.29,707.01 L546.26,705.25 L545.23,703.50 L544.20,701.75 L543.18,700.00 L542.17,698.25 L541.19,696.48 L540.23,694.71 L539.30,692.92 L538.40,691.12 L537.53,689.30 L536.69,687.47 L535.88,685.63 L535.10,683.78 L534.34,681.91 L533.61,680.03 L532.91,678.14 L532.23,676.24 L531.57,674.34 L530.93,672.42 L530.31,670.49 L529.71,668.55 L529.13,666.61 L528.57,664.66 L528.02,662.70 L527.49,660.73 L526.97,658.76 L526.47,656.78 L525.98,654.80 L525.50,652.82 L525.03,650.82 L524.57,648.83 L524.12,646.83 L523.68,644.83 L523.24,642.83 L522.81,640.82 L522.38,638.82 L521.96,636.81 L521.54,634.80 L521.12,632.80 L520.70,630.79 L520.28,628.78 L519.86,626.78 L519.44,624.78 L519.01,622.78 L518.58,620.78 L518.14,618.79 L517.70,616.80 L517.25,614.82 L516.79,612.84 L516.32,610.87 L515.84,608.90 L515.35,606.94 L514.85,604.98 L514.33,603.04 L513.80,601.10 L513.25,599.17 L512.69,597.24 L512.00,595.30Z" fill="#dce8f5" stroke="none"/>
<path d="M512.0,595.3 L546.1,769.5" fill="none" stroke="#b3a5a5" stroke-width="2.3" stroke-linejoin="round" stroke-linecap="butt"/>
<path d="M512.0,595.3 L512.6,597.2 L513.3,599.1 L513.9,601.0 L514.4,603.0 L515.0,604.9 L515.5,606.9 L516.0,608.8 L516.5,610.8 L517.0,612.7 L517.5,614.7 L517.9,616.7 L518.3,618.6 L518.8,620.6 L519.2,622.6 L519.6,624.6 L520.0,626.6 L520.4,628.5 L520.8,630.5 L521.2,632.5 L521.6,634.5 L522.0,636.5 L522.4,638.4 L522.8,640.4 L523.3,642.4 L523.7,644.4 L524.1,646.3 L524.6,648.3 L525.1,650.3 L525.5,652.2 L526.0,654.2 L526.6,656.1 L527.1,658.1 L527.7,660.0 L528.2,661.9 L528.8,663.8 L529.4,665.7 L530.1,667.6 L530.7,669.5 L531.4,671.4 L532.1,673.3 L532.8,675.2 L533.5,677.1 L534.2,679.0 L535.0,680.8 L535.7,682.7 L536.5,684.5 L537.3,686.4 L538.1,688.2 L538.9,690.1 L539.8,691.9 L540.6,693.7 L541.5,695.6 L542.4,697.4 L543.3,699.2 L544.2,701.0 L545.1,702.8 L546.1,704.6 L547.0,706.4 L548.0,708.2 L549.0,710.0 L550.0,711.8 L551.0,713.5 L552.1,715.2 L553.2,716.9 L554.3,718.6 L555.4,720.3 L556.6,721.9 L557.7,723.5 L559.0,725.1 L560.2,726.7 L561.5,728.2 L562.8,729.6 L564.2,731.1 L565.6,732.5 L567.1,733.8 L568.6,735.1 L570.1,736.4 L571.7,737.6 L573.3,738.7 L575.0,739.8 L576.7,740.8 L578.5,741.8 L580.3,742.7 L582.2,743.6 L584.1,744.4 L586.1,745.1 L588.0,745.8 L590.0,746.5 L591.9,747.0 L593.9,747.6 L595.9,748.0 L597.8,748.5 L599.7,748.9 L601.6,749.3 L603.6,749.7 L605.5,750.2 L607.4,750.7 L609.3,751.3 L611.2,751.9 L613.1,752.5 L615.0,753.0 L616.9,753.5 L618.9,754.0 L620.8,754.4 L622.8,754.7 L624.8,755.1 L626.8,755.4 L628.7,755.6 L630.7,755.9 L632.7,756.1 L634.7,756.2 L636.8,756.4 L638.8,756.5 L640.8,756.7 L642.8,756.8 L644.8,756.9 L646.9,757.0 L648.9,757.0 L650.9,757.1 L653.0,757.2 L655.0,757.3 L657.0,757.3 L659.0,757.4 L661.1,757.5 L663.1,757.6 L665.1,757.7 L667.1,757.9 L669.1,758.0 L671.1,758.2 L673.1,758.4 L675.1,758.6 L677.1,758.8" fill="none" stroke="#5b9bd5" stroke-width="2.0" stroke-linejoin="round" stroke-linecap="butt"/>
<path d="M512.0,595.3 L512.7,597.2 L513.3,599.2 L513.8,601.1 L514.3,603.0 L514.8,605.0 L515.3,606.9 L515.8,608.9 L516.3,610.9 L516.8,612.8 L517.2,614.8 L517.7,616.8 L518.1,618.8 L518.6,620.8 L519.0,622.8 L519.4,624.8 L519.9,626.8 L520.3,628.8 L520.7,630.8 L521.1,632.8 L521.5,634.8 L522.0,636.8 L522.4,638.8 L522.8,640.8 L523.2,642.8 L523.7,644.8 L524.1,646.8 L524.6,648.8 L525.0,650.8 L525.5,652.8 L526.0,654.8 L526.5,656.8 L527.0,658.8 L527.5,660.7 L528.0,662.7 L528.6,664.7 L529.1,666.6 L529.7,668.6 L530.3,670.5 L530.9,672.4 L531.6,674.3 L532.2,676.2 L532.9,678.1 L533.6,680.0 L534.3,681.9 L535.1,683.8 L535.9,685.6 L536.7,687.5 L537.5,689.3 L538.4,691.1 L539.3,692.9 L540.2,694.7 L541.2,696.5 L542.2,698.2 L543.2,700.0 L544.2,701.8 L545.2,703.5 L546.3,705.3 L547.3,707.0 L548.3,708.8 L549.3,710.6 L550.3,712.3 L551.3,714.2 L552.2,716.0 L553.2,717.8 L554.0,719.7 L554.8,721.6 L555.6,723.6 L556.3,725.6 L557.0,727.6 L557.6,729.6 L558.3,731.6 L559.0,733.5 L559.7,735.4 L560.5,737.2 L561.5,738.9 L562.5,740.5 L563.8,741.8 L565.2,743.0 L566.8,743.8 L568.5,744.2 L570.5,744.3 L572.5,744.4 L574.5,744.6 L576.5,744.9 L578.4,745.4 L580.3,746.1 L582.2,746.9 L584.0,747.8 L585.8,748.8 L587.5,749.9 L589.3,751.0 L591.0,752.2 L592.7,753.4 L594.4,754.5 L596.2,755.6 L597.9,756.6 L599.8,757.5 L601.6,758.2 L603.5,758.9 L605.5,759.3 L677.1,759.3" fill="none" stroke="#1a1a1a" stroke-width="1.45" stroke-dasharray="1.5,1.9" stroke-linejoin="round" stroke-linecap="butt"/>
<line x1="512.00" y1="759.30" x2="677.00" y2="759.30" stroke="#c2b0b0" stroke-width="1.6" stroke-dasharray="4.6,2"/>
<path d="M512.0,595.3 L512.6,597.2 L513.2,599.2 L513.7,601.1 L514.3,603.0 L514.8,604.9 L515.3,606.9 L515.8,608.8 L516.3,610.8 L516.8,612.7 L517.3,614.7 L517.8,616.6 L518.3,618.6 L518.7,620.6 L519.2,622.5 L519.7,624.5 L520.1,626.5 L520.6,628.5 L521.1,630.4 L521.6,632.4 L522.0,634.4 L522.5,636.4 L523.0,638.4 L523.5,640.3 L524.0,642.3 L524.5,644.3 L525.0,646.3 L525.5,648.2 L526.0,650.2 L526.5,652.2 L527.0,654.1 L527.6,656.1 L528.2,658.0 L528.7,660.0 L529.3,661.9 L529.9,663.9 L530.5,665.8 L531.2,667.7 L531.8,669.6 L532.5,671.5 L533.1,673.4 L533.8,675.3 L534.5,677.2 L535.3,679.0 L536.0,680.9 L536.8,682.7 L537.6,684.6 L538.4,686.4 L539.3,688.2 L540.2,690.0 L541.1,691.8 L542.0,693.6 L542.9,695.3 L543.9,697.1 L544.9,698.8 L545.9,700.5 L547.0,702.2 L548.1,703.9 L549.2,705.6 L550.4,707.2 L551.5,708.9 L552.7,710.5 L554.0,712.1 L555.2,713.7 L556.5,715.3 L557.8,716.9 L559.0,718.5 L560.4,720.0 L561.7,721.6 L563.0,723.2 L564.4,724.7 L565.7,726.3 L567.1,727.8 L568.4,729.4 L569.8,730.9 L571.2,732.4 L572.6,733.9 L574.0,735.3 L575.4,736.7 L576.9,738.1 L578.4,739.4 L580.0,740.7 L581.5,741.9 L583.2,743.0 L584.8,744.1 L586.5,745.1 L588.2,746.1 L590.0,746.9 L591.7,747.8 L593.5,748.5 L595.4,749.2 L597.2,749.9 L599.1,750.5 L601.0,751.0 L603.0,751.5 L604.9,751.9 L606.9,752.2 L608.9,752.5 L610.9,752.8 L612.9,753.0 L615.0,753.3 L617.0,753.5 L619.0,753.6 L621.0,753.8 L623.1,754.0 L625.1,754.3 L627.1,754.5 L629.1,754.8 L631.1,755.1 L633.1,755.3 L635.1,755.7 L637.1,756.0 L639.1,756.3 L641.1,756.6 L643.1,756.9 L645.1,757.3 L647.1,757.6 L649.1,757.9 L651.0,758.2 L653.0,758.5 L655.0,758.8 L657.0,759.1 L659.0,759.4 L661.0,759.6 L663.0,759.8 L665.0,760.0 L667.0,760.2 L669.0,760.3 L671.0,760.4 L673.0,760.5 L675.0,760.6 L677.1,760.3" fill="none" stroke="#1a1a1a" stroke-width="1.7" stroke-dasharray="5,1.8" stroke-linejoin="round" stroke-linecap="butt"/>
<path d="M512.0,595.3 L512.7,597.2 L513.2,599.1 L513.7,601.1 L514.2,603.0 L514.7,605.0 L515.2,606.9 L515.7,608.9 L516.2,610.9 L516.7,612.8 L517.2,614.8 L517.6,616.8 L518.1,618.7 L518.6,620.7 L519.1,622.7 L519.5,624.6 L520.0,626.6 L520.5,628.6 L521.0,630.5 L521.5,632.5 L522.0,634.5 L522.5,636.4 L522.9,638.4 L523.5,640.4 L524.0,642.3 L524.5,644.3 L525.0,646.2 L525.6,648.2 L526.1,650.1 L526.7,652.1 L527.2,654.0 L527.8,655.9 L528.4,657.8 L529.0,659.8 L529.6,661.7 L530.3,663.6 L530.9,665.5 L531.6,667.4 L532.3,669.3 L533.0,671.1 L533.7,673.0 L534.5,674.9 L535.2,676.7 L536.0,678.6 L536.8,680.4 L537.6,682.2 L538.5,684.0 L539.3,685.8 L540.2,687.6 L541.2,689.4 L542.1,691.2 L543.1,692.9 L544.1,694.7 L545.1,696.4 L546.2,698.1 L547.3,699.8 L548.4,701.5 L549.5,703.2 L550.6,704.9 L551.8,706.5 L553.0,708.1 L554.3,709.8 L555.5,711.4 L556.8,712.9 L558.1,714.5 L559.4,716.1 L560.7,717.6 L562.1,719.1 L563.5,720.6 L564.9,722.1 L566.3,723.6 L567.8,725.0 L569.2,726.4 L570.7,727.8 L572.2,729.2 L573.7,730.5 L575.2,731.9 L576.8,733.2 L578.4,734.5 L579.9,735.8 L581.5,737.0 L583.1,738.2 L584.8,739.4 L586.4,740.6 L588.1,741.7 L589.7,742.8 L591.4,743.9 L593.1,745.0 L594.9,746.0 L596.6,746.9 L598.4,747.9 L600.1,748.8 L601.9,749.6 L603.7,750.4 L605.5,751.2 L607.4,751.9 L609.3,752.5 L611.1,753.1 L613.0,753.7 L614.9,754.2 L616.9,754.7 L618.8,755.0 L620.8,755.4 L622.8,755.6 L624.8,755.8 L626.9,756.0 L628.9,756.1 L631.0,756.1 L633.1,756.0 L635.2,755.9 L637.3,755.9 L639.3,755.8 L641.4,755.8 L643.5,755.9 L645.5,756.2 L647.5,756.5 L649.4,756.9 L651.4,757.3 L653.3,757.7 L655.3,758.1 L657.3,758.3 L659.3,758.4 L661.3,758.5 L663.3,758.6 L665.3,758.7 L667.3,758.7 L669.3,758.8 L671.3,759.0 L673.2,759.2 L675.2,759.6 L677.1,760.3" fill="none" stroke="#c8321e" stroke-width="2.0" stroke-linejoin="round" stroke-linecap="butt"/>
<path d="M48.00,822.30 L48.66,824.21 L49.24,826.11 L49.82,828.02 L50.39,829.93 L50.96,831.85 L51.52,833.78 L52.08,835.71 L52.64,837.65 L53.19,839.59 L53.75,841.54 L54.31,843.49 L54.86,845.44 L55.42,847.39 L55.99,849.34 L56.55,851.30 L57.13,853.25 L57.70,855.20 L58.29,857.15 L58.89,859.10 L59.49,861.04 L60.10,862.98 L60.73,864.92 L61.36,866.85 L62.01,868.78 L62.67,870.70 L63.35,872.61 L64.05,874.51 L64.76,876.41 L65.48,878.30 L66.23,880.17 L66.99,882.04 L67.78,883.90 L68.59,885.74 L69.42,887.57 L70.27,889.39 L71.15,891.20 L72.05,892.99 L72.98,894.76 L73.94,896.52 L74.92,898.27 L75.93,900.00 L76.97,901.71 L78.04,903.40 L79.13,905.08 L80.25,906.75 L81.39,908.40 L82.55,910.03 L83.74,911.65 L84.95,913.26 L86.18,914.85 L87.43,916.43 L88.70,917.99 L89.99,919.55 L91.30,921.09 L92.62,922.61 L93.96,924.13 L95.31,925.63 L96.68,927.12 L98.07,928.60 L99.47,930.07 L100.88,931.53 L102.30,932.98 L103.73,934.42 L105.17,935.85 L106.62,937.26 L108.09,938.67 L109.56,940.06 L111.05,941.44 L112.54,942.81 L114.05,944.16 L115.57,945.50 L117.11,946.82 L118.65,948.12 L120.21,949.41 L121.78,950.68 L123.36,951.93 L124.95,953.16 L126.56,954.37 L128.18,955.56 L129.81,956.73 L131.46,957.87 L133.12,959.00 L134.80,960.10 L136.49,961.17 L138.19,962.22 L139.91,963.25 L141.64,964.25 L143.39,965.22 L145.15,966.17 L146.93,967.08 L148.72,967.97 L150.53,968.83 L152.35,969.65 L154.19,970.45 L156.05,971.22 L157.92,971.96 L159.80,972.67 L161.69,973.37 L163.59,974.03 L165.51,974.68 L167.43,975.31 L169.36,975.91 L171.30,976.50 L173.25,977.07 L175.20,977.63 L177.16,978.18 L179.13,978.71 L181.09,979.23 L183.06,979.74 L185.04,980.24 L187.01,980.73 L188.98,981.22 L190.96,981.70 L192.93,982.18 L194.90,982.66 L196.87,983.14 L198.84,983.62 L200.80,984.10 L202.75,984.58 L204.70,985.07 L206.65,985.57 L208.58,986.07 L210.51,986.58 L212.50,986.90 L212.50,990.60 L210.54,990.49 L208.61,990.43 L206.66,990.38 L204.69,990.34 L202.71,990.31 L200.70,990.29 L198.69,990.27 L196.66,990.25 L194.63,990.23 L192.58,990.21 L190.52,990.18 L188.46,990.15 L186.40,990.10 L184.33,990.05 L182.26,989.98 L180.19,989.89 L178.12,989.79 L176.05,989.66 L173.99,989.52 L171.93,989.34 L169.88,989.14 L167.84,988.91 L165.80,988.65 L163.78,988.35 L161.78,988.02 L159.78,987.65 L157.80,987.23 L155.84,986.78 L153.90,986.27 L151.98,985.72 L150.08,985.12 L148.20,984.47 L146.35,983.77 L144.51,983.02 L142.70,982.23 L140.92,981.39 L139.15,980.50 L137.41,979.57 L135.68,978.60 L133.98,977.58 L132.30,976.53 L130.64,975.44 L129.01,974.31 L127.39,973.14 L125.80,971.95 L124.23,970.71 L122.67,969.45 L121.14,968.15 L119.63,966.83 L118.14,965.48 L116.67,964.10 L115.22,962.69 L113.79,961.26 L112.38,959.81 L110.99,958.33 L109.61,956.84 L108.26,955.33 L106.93,953.79 L105.62,952.24 L104.33,950.68 L103.05,949.10 L101.80,947.51 L100.56,945.90 L99.34,944.29 L98.14,942.66 L96.96,941.02 L95.80,939.37 L94.65,937.71 L93.52,936.04 L92.41,934.36 L91.32,932.67 L90.24,930.97 L89.18,929.26 L88.13,927.54 L87.10,925.81 L86.09,924.07 L85.09,922.32 L84.11,920.56 L83.14,918.80 L82.19,917.02 L81.25,915.24 L80.33,913.45 L79.42,911.65 L78.52,909.85 L77.64,908.04 L76.77,906.22 L75.92,904.39 L75.07,902.56 L74.24,900.72 L73.43,898.87 L72.62,897.02 L71.83,895.16 L71.05,893.30 L70.28,891.43 L69.52,889.56 L68.77,887.68 L68.03,885.80 L67.30,883.91 L66.59,882.02 L65.88,880.12 L65.19,878.22 L64.50,876.31 L63.82,874.41 L63.15,872.50 L62.49,870.58 L61.84,868.66 L61.20,866.75 L60.57,864.82 L59.94,862.90 L59.32,860.97 L58.71,859.04 L58.11,857.12 L57.51,855.18 L56.92,853.25 L56.34,851.32 L55.76,849.38 L55.19,847.45 L54.62,845.52 L54.06,843.58 L53.51,841.64 L52.96,839.71 L52.41,837.78 L51.87,835.84 L51.34,833.91 L50.81,831.98 L50.28,830.05 L49.76,828.12 L49.24,826.19 L48.72,824.27 L48.00,822.30Z" fill="#f3d3cf" stroke="none"/>
<path d="M48.00,822.30 L48.60,824.26 L49.22,826.13 L49.82,828.01 L50.42,829.90 L51.01,831.80 L51.59,833.71 L52.17,835.63 L52.74,837.56 L53.31,839.49 L53.87,841.43 L54.43,843.37 L54.99,845.32 L55.55,847.27 L56.11,849.23 L56.67,851.19 L57.23,853.15 L57.80,855.11 L58.37,857.07 L58.95,859.03 L59.53,860.98 L60.12,862.94 L60.72,864.89 L61.33,866.84 L61.94,868.79 L62.57,870.73 L63.22,872.67 L63.87,874.60 L64.54,876.52 L65.22,878.43 L65.92,880.34 L66.64,882.24 L67.38,884.12 L68.13,886.00 L68.91,887.87 L69.70,889.72 L70.52,891.56 L71.36,893.38 L72.22,895.20 L73.11,896.99 L74.03,898.78 L74.97,900.54 L75.94,902.29 L76.93,904.02 L77.95,905.74 L79.00,907.44 L80.07,909.13 L81.16,910.80 L82.28,912.46 L83.42,914.10 L84.57,915.74 L85.75,917.35 L86.95,918.96 L88.17,920.56 L89.41,922.14 L90.66,923.71 L91.93,925.27 L93.22,926.82 L94.53,928.37 L95.84,929.90 L97.18,931.42 L98.52,932.94 L99.88,934.44 L101.25,935.94 L102.63,937.44 L104.03,938.92 L105.43,940.40 L106.84,941.87 L108.26,943.34 L109.69,944.80 L111.13,946.26 L112.57,947.71 L114.02,949.15 L115.49,950.58 L116.96,952.00 L118.44,953.40 L119.94,954.79 L121.45,956.15 L122.97,957.50 L124.51,958.82 L126.06,960.12 L127.63,961.39 L129.22,962.63 L130.82,963.84 L132.45,965.02 L134.09,966.17 L135.74,967.28 L137.42,968.36 L139.12,969.40 L140.83,970.40 L142.57,971.36 L144.32,972.28 L146.09,973.16 L147.88,974.00 L149.68,974.80 L151.51,975.55 L153.36,976.26 L155.22,976.92 L157.10,977.53 L159.00,978.09 L160.92,978.61 L162.86,979.07 L164.82,979.49 L166.79,979.86 L168.78,980.20 L170.78,980.50 L172.79,980.77 L174.80,981.03 L176.83,981.27 L178.86,981.49 L180.89,981.71 L182.92,981.93 L184.96,982.15 L186.99,982.39 L189.02,982.63 L191.04,982.90 L193.06,983.20 L195.06,983.52 L197.05,983.88 L199.03,984.28 L201.00,984.73 L202.95,985.23 L204.88,985.79 L206.79,986.41 L208.68,987.10 L210.54,987.86 L212.50,988.40 L212.50,984.30 L210.51,984.62 L208.50,985.27 L206.50,985.83 L204.51,986.30 L202.52,986.68 L200.53,986.97 L198.55,987.18 L196.58,987.32 L194.62,987.37 L192.66,987.34 L190.70,987.24 L188.75,987.07 L186.81,986.84 L184.87,986.54 L182.93,986.18 L180.99,985.77 L179.06,985.33 L177.13,984.84 L175.19,984.33 L173.25,983.79 L171.31,983.23 L169.37,982.67 L167.42,982.10 L165.47,981.53 L163.51,980.97 L161.54,980.43 L159.56,979.90 L157.57,979.39 L155.59,978.88 L153.61,978.38 L151.63,977.87 L149.66,977.36 L147.70,976.83 L145.76,976.27 L143.83,975.69 L141.93,975.07 L140.05,974.41 L138.21,973.71 L136.39,972.95 L134.61,972.13 L132.87,971.25 L131.18,970.30 L129.52,969.27 L127.91,968.17 L126.35,967.00 L124.82,965.77 L123.32,964.48 L121.86,963.14 L120.42,961.76 L119.01,960.33 L117.63,958.87 L116.26,957.37 L114.91,955.85 L113.58,954.31 L112.25,952.75 L110.94,951.19 L109.63,949.61 L108.32,948.04 L107.01,946.47 L105.71,944.90 L104.42,943.32 L103.13,941.74 L101.84,940.17 L100.56,938.59 L99.29,937.00 L98.03,935.42 L96.77,933.83 L95.53,932.23 L94.29,930.63 L93.07,929.03 L91.86,927.41 L90.66,925.80 L89.47,924.17 L88.30,922.54 L87.14,920.90 L86.00,919.25 L84.88,917.59 L83.77,915.92 L82.68,914.25 L81.61,912.56 L80.56,910.86 L79.53,909.15 L78.52,907.42 L77.53,905.69 L76.57,903.94 L75.63,902.18 L74.71,900.40 L73.81,898.62 L72.93,896.82 L72.08,895.01 L71.24,893.18 L70.43,891.35 L69.63,889.51 L68.85,887.65 L68.09,885.79 L67.34,883.92 L66.61,882.04 L65.90,880.15 L65.20,878.26 L64.51,876.36 L63.84,874.45 L63.17,872.54 L62.52,870.62 L61.89,868.69 L61.26,866.76 L60.64,864.83 L60.03,862.90 L59.43,860.96 L58.83,859.02 L58.25,857.08 L57.66,855.13 L57.09,853.19 L56.52,851.24 L55.95,849.30 L55.39,847.35 L54.83,845.41 L54.27,843.46 L53.71,841.52 L53.15,839.59 L52.59,837.65 L52.04,835.72 L51.48,833.79 L50.91,831.87 L50.35,829.95 L49.78,828.04 L49.21,826.13 L48.63,824.23 L48.00,822.30Z" fill="#dce8f5" stroke="none"/>
<path d="M48.0,822.3 L100.5,997.2" fill="none" stroke="#b3a5a5" stroke-width="2.3" stroke-linejoin="round" stroke-linecap="butt"/>
<path d="M48.0,822.3 L48.6,824.3 L49.2,826.1 L49.8,828.0 L50.4,829.9 L51.0,831.8 L51.6,833.7 L52.2,835.6 L52.7,837.6 L53.3,839.5 L53.9,841.4 L54.4,843.4 L55.0,845.3 L55.5,847.3 L56.1,849.2 L56.7,851.2 L57.2,853.1 L57.8,855.1 L58.4,857.1 L58.9,859.0 L59.5,861.0 L60.1,862.9 L60.7,864.9 L61.3,866.8 L61.9,868.8 L62.6,870.7 L63.2,872.7 L63.9,874.6 L64.5,876.5 L65.2,878.4 L65.9,880.3 L66.6,882.2 L67.4,884.1 L68.1,886.0 L68.9,887.9 L69.7,889.7 L70.5,891.6 L71.4,893.4 L72.2,895.2 L73.1,897.0 L74.0,898.8 L75.0,900.5 L75.9,902.3 L76.9,904.0 L78.0,905.7 L79.0,907.4 L80.1,909.1 L81.2,910.8 L82.3,912.5 L83.4,914.1 L84.6,915.7 L85.8,917.4 L87.0,919.0 L88.2,920.6 L89.4,922.1 L90.7,923.7 L91.9,925.3 L93.2,926.8 L94.5,928.4 L95.8,929.9 L97.2,931.4 L98.5,932.9 L99.9,934.4 L101.3,935.9 L102.6,937.4 L104.0,938.9 L105.4,940.4 L106.8,941.9 L108.3,943.3 L109.7,944.8 L111.1,946.3 L112.6,947.7 L114.0,949.2 L115.5,950.6 L117.0,952.0 L118.4,953.4 L119.9,954.8 L121.5,956.2 L123.0,957.5 L124.5,958.8 L126.1,960.1 L127.6,961.4 L129.2,962.6 L130.8,963.8 L132.4,965.0 L134.1,966.2 L135.7,967.3 L137.4,968.4 L139.1,969.4 L140.8,970.4 L142.6,971.4 L144.3,972.3 L146.1,973.2 L147.9,974.0 L149.7,974.8 L151.5,975.6 L153.4,976.3 L155.2,976.9 L157.1,977.5 L159.0,978.1 L160.9,978.6 L162.9,979.1 L164.8,979.5 L166.8,979.9 L168.8,980.2 L170.8,980.5 L172.8,980.8 L174.8,981.0 L176.8,981.3 L178.9,981.5 L180.9,981.7 L182.9,981.9 L185.0,982.2 L187.0,982.4 L189.0,982.6 L191.0,982.9 L193.1,983.2 L195.1,983.5 L197.1,983.9 L199.0,984.3 L201.0,984.7 L202.9,985.2 L204.9,985.8 L206.8,986.4 L208.7,987.1 L210.5,987.9 L212.5,988.4" fill="none" stroke="#5b9bd5" stroke-width="2.0" stroke-linejoin="round" stroke-linecap="butt"/>
<path d="M48.0,822.3 L48.6,824.2 L49.2,826.1 L49.8,828.0 L50.4,830.0 L50.9,831.9 L51.5,833.8 L52.0,835.7 L52.6,837.7 L53.2,839.6 L53.7,841.5 L54.3,843.5 L54.8,845.4 L55.4,847.4 L55.9,849.3 L56.5,851.2 L57.1,853.2 L57.7,855.1 L58.2,857.1 L58.8,859.0 L59.4,861.0 L60.0,862.9 L60.6,864.8 L61.3,866.8 L61.9,868.7 L62.5,870.6 L63.2,872.5 L63.8,874.4 L64.5,876.4 L65.2,878.3 L65.9,880.2 L66.6,882.0 L67.3,883.9 L68.1,885.8 L68.8,887.7 L69.6,889.5 L70.4,891.4 L71.2,893.2 L72.1,895.0 L72.9,896.8 L73.8,898.6 L74.7,900.4 L75.6,902.2 L76.6,903.9 L77.5,905.7 L78.5,907.4 L79.5,909.1 L80.6,910.9 L81.6,912.6 L82.7,914.2 L83.8,915.9 L84.9,917.6 L86.0,919.2 L87.1,920.9 L88.3,922.5 L89.5,924.2 L90.7,925.8 L91.9,927.4 L93.1,929.0 L94.3,930.6 L95.5,932.2 L96.8,933.8 L98.0,935.4 L99.3,937.0 L100.6,938.6 L101.8,940.2 L103.1,941.7 L104.4,943.3 L105.7,944.9 L107.0,946.5 L108.3,948.0 L109.6,949.6 L110.9,951.2 L112.3,952.8 L113.6,954.3 L114.9,955.9 L116.3,957.4 L117.6,958.9 L119.0,960.3 L120.4,961.8 L121.9,963.1 L123.3,964.5 L124.8,965.8 L126.3,967.0 L127.9,968.2 L129.5,969.3 L131.2,970.3 L132.9,971.3 L134.6,972.1 L136.4,972.9 L138.2,973.7 L140.1,974.4 L141.9,975.1 L143.8,975.7 L145.8,976.3 L147.7,976.8 L149.7,977.4 L151.6,977.9 L153.6,978.4 L155.6,978.9 L157.6,979.4 L159.6,979.9 L161.5,980.4 L163.5,981.0 L165.5,981.5 L167.4,982.1 L169.4,982.7 L171.3,983.2 L173.3,983.8 L175.2,984.3 L177.1,984.8 L179.1,985.3 L181.0,985.8 L182.9,986.2 L184.9,986.5 L186.8,986.8 L188.8,987.1 L190.7,987.2 L192.7,987.3 L194.6,987.4 L196.6,987.3 L198.6,987.2 L200.5,987.0 L202.5,986.7 L204.5,986.3 L206.5,985.8 L208.5,985.3 L210.5,984.6 L212.5,984.3" fill="none" stroke="#1a1a1a" stroke-width="1.45" stroke-dasharray="1.5,1.9" stroke-linejoin="round" stroke-linecap="butt"/>
<line x1="47.50" y1="984.20" x2="213.00" y2="984.20" stroke="#c2b0b0" stroke-width="1.6" stroke-dasharray="4.6,2"/>
<path d="M48.0,822.3 L48.7,824.3 L49.2,826.2 L49.8,828.1 L50.3,830.0 L50.8,832.0 L51.3,833.9 L51.9,835.8 L52.4,837.8 L53.0,839.7 L53.5,841.6 L54.1,843.6 L54.6,845.5 L55.2,847.4 L55.8,849.4 L56.3,851.3 L56.9,853.3 L57.5,855.2 L58.1,857.1 L58.7,859.0 L59.3,861.0 L59.9,862.9 L60.6,864.8 L61.2,866.7 L61.8,868.7 L62.5,870.6 L63.2,872.5 L63.8,874.4 L64.5,876.3 L65.2,878.2 L65.9,880.1 L66.6,882.0 L67.3,883.9 L68.0,885.8 L68.8,887.7 L69.5,889.6 L70.3,891.4 L71.0,893.3 L71.8,895.2 L72.6,897.0 L73.4,898.9 L74.2,900.7 L75.1,902.6 L75.9,904.4 L76.8,906.2 L77.6,908.0 L78.5,909.8 L79.4,911.7 L80.3,913.5 L81.3,915.2 L82.2,917.0 L83.1,918.8 L84.1,920.6 L85.1,922.3 L86.1,924.1 L87.1,925.8 L88.1,927.5 L89.2,929.3 L90.2,931.0 L91.3,932.7 L92.4,934.4 L93.5,936.0 L94.7,937.7 L95.8,939.4 L97.0,941.0 L98.1,942.7 L99.3,944.3 L100.6,945.9 L101.8,947.5 L103.1,949.1 L104.3,950.7 L105.6,952.2 L106.9,953.8 L108.3,955.3 L109.6,956.8 L111.0,958.3 L112.4,959.8 L113.8,961.3 L115.2,962.7 L116.7,964.1 L118.1,965.5 L119.6,966.8 L121.1,968.2 L122.7,969.4 L124.2,970.7 L125.8,971.9 L127.4,973.1 L129.0,974.3 L130.6,975.4 L132.3,976.5 L134.0,977.6 L135.7,978.6 L137.4,979.6 L139.1,980.5 L140.9,981.4 L142.7,982.2 L144.5,983.0 L146.3,983.8 L148.2,984.5 L150.1,985.1 L152.0,985.7 L153.9,986.3 L155.8,986.8 L157.8,987.2 L159.8,987.6 L161.8,988.0 L163.8,988.4 L165.8,988.6 L167.8,988.9 L169.9,989.1 L171.9,989.3 L174.0,989.5 L176.1,989.7 L178.1,989.8 L180.2,989.9 L182.3,990.0 L184.3,990.0 L186.4,990.1 L188.5,990.1 L190.5,990.2 L192.6,990.2 L194.6,990.2 L196.7,990.3 L198.7,990.3 L200.7,990.3 L202.7,990.3 L204.7,990.3 L206.7,990.4 L208.6,990.4 L210.5,990.5 L212.5,990.6" fill="none" stroke="#1a1a1a" stroke-width="1.7" stroke-dasharray="5,1.8" stroke-linejoin="round" stroke-linecap="butt"/>
<path d="M48.0,822.3 L48.7,824.2 L49.2,826.1 L49.8,828.0 L50.4,829.9 L51.0,831.9 L51.5,833.8 L52.1,835.7 L52.6,837.7 L53.2,839.6 L53.7,841.5 L54.3,843.5 L54.9,845.4 L55.4,847.4 L56.0,849.3 L56.6,851.3 L57.1,853.3 L57.7,855.2 L58.3,857.2 L58.9,859.1 L59.5,861.0 L60.1,863.0 L60.7,864.9 L61.4,866.9 L62.0,868.8 L62.7,870.7 L63.4,872.6 L64.0,874.5 L64.8,876.4 L65.5,878.3 L66.2,880.2 L67.0,882.0 L67.8,883.9 L68.6,885.7 L69.4,887.6 L70.3,889.4 L71.1,891.2 L72.1,893.0 L73.0,894.8 L73.9,896.5 L74.9,898.3 L75.9,900.0 L77.0,901.7 L78.0,903.4 L79.1,905.1 L80.2,906.7 L81.4,908.4 L82.6,910.0 L83.7,911.7 L85.0,913.3 L86.2,914.9 L87.4,916.4 L88.7,918.0 L90.0,919.5 L91.3,921.1 L92.6,922.6 L94.0,924.1 L95.3,925.6 L96.7,927.1 L98.1,928.6 L99.5,930.1 L100.9,931.5 L102.3,933.0 L103.7,934.4 L105.2,935.8 L106.6,937.3 L108.1,938.7 L109.6,940.1 L111.0,941.4 L112.5,942.8 L114.1,944.2 L115.6,945.5 L117.1,946.8 L118.6,948.1 L120.2,949.4 L121.8,950.7 L123.4,951.9 L125.0,953.2 L126.6,954.4 L128.2,955.6 L129.8,956.7 L131.5,957.9 L133.1,959.0 L134.8,960.1 L136.5,961.2 L138.2,962.2 L139.9,963.2 L141.6,964.2 L143.4,965.2 L145.2,966.2 L146.9,967.1 L148.7,968.0 L150.5,968.8 L152.4,969.7 L154.2,970.4 L156.0,971.2 L157.9,972.0 L159.8,972.7 L161.7,973.4 L163.6,974.0 L165.5,974.7 L167.4,975.3 L169.4,975.9 L171.3,976.5 L173.2,977.1 L175.2,977.6 L177.2,978.2 L179.1,978.7 L181.1,979.2 L183.1,979.7 L185.0,980.2 L187.0,980.7 L189.0,981.2 L191.0,981.7 L192.9,982.2 L194.9,982.7 L196.9,983.1 L198.8,983.6 L200.8,984.1 L202.8,984.6 L204.7,985.1 L206.6,985.6 L208.6,986.1 L210.5,986.6 L212.5,986.9" fill="none" stroke="#c8321e" stroke-width="2.0" stroke-linejoin="round" stroke-linecap="butt"/>
<path d="M280.00,822.30 L284.50,841.60 L289.70,862.70 L296.30,886.30 L302.00,900.00 L306.00,909.00 L309.50,915.50 L314.60,926.00 L319.70,935.40 L325.50,942.00 L332.80,948.60 L340.10,955.90 L346.70,961.70 L349.90,966.00 L355.70,969.50 L360.40,971.20 L365.10,974.70 L370.50,975.40 L377.10,977.10 L386.30,980.00 L394.20,981.00 L403.40,982.60 L412.60,983.90 L420.40,984.60 L428.30,986.30 L434.90,985.90 L445.40,987.20 L445.40,989.40 L431.00,987.80 L420.00,987.00 L409.90,987.80 L399.40,985.90 L391.50,985.20 L381.00,980.60 L370.50,978.00 L362.00,974.00 L355.70,970.10 L348.80,965.50 L341.70,961.00 L335.70,955.00 L330.50,947.50 L325.50,942.20 L319.70,935.40 L314.60,926.00 L309.50,915.50 L306.00,909.00 L302.00,900.00 L296.30,886.30 L289.70,862.70 L284.50,841.60 L280.00,822.30Z" fill="#f3d3cf" stroke="none"/>
<path d="M280.00,822.30 L284.50,841.60 L289.70,862.70 L296.30,887.00 L302.00,902.30 L307.30,915.00 L314.60,931.80 L320.40,940.50 L327.70,949.30 L334.30,956.60 L340.90,963.20 L344.00,966.60 L349.90,970.70 L355.70,973.60 L360.40,974.20 L365.30,978.00 L373.10,980.60 L381.00,981.90 L390.20,983.20 L399.40,984.60 L409.90,985.90 L420.40,986.50 L433.60,987.20 L445.40,987.80 L445.40,987.00 L377.10,986.50 L371.80,984.60 L365.30,980.60 L360.40,977.10 L353.40,973.60 L346.40,970.10 L339.40,966.60 L336.00,964.50 L332.10,961.00 L325.50,949.30 L319.00,939.10 L313.10,928.10 L307.30,915.00 L302.00,903.50 L296.30,888.00 L289.70,863.00 L284.50,841.60 L280.00,822.30Z" fill="#dce8f5" stroke="none"/>
<path d="M280.0,822.3 L318.6,997.0" fill="none" stroke="#b3a5a5" stroke-width="2.3" stroke-linejoin="round" stroke-linecap="butt"/>
<path d="M280.00,822.30 C280.75,825.52 282.88,834.87 284.50,841.60 C286.12,848.33 287.73,855.13 289.70,862.70 C291.67,870.27 294.25,880.40 296.30,887.00 C298.35,893.60 300.17,897.63 302.00,902.30 C303.83,906.97 305.20,910.08 307.30,915.00 C309.40,919.92 312.42,927.55 314.60,931.80 C316.78,936.05 318.22,937.58 320.40,940.50 C322.58,943.42 325.38,946.62 327.70,949.30 C330.02,951.98 332.10,954.28 334.30,956.60 C336.50,958.92 339.28,961.53 340.90,963.20 C342.52,964.87 342.50,965.35 344.00,966.60 C345.50,967.85 347.95,969.53 349.90,970.70 C351.85,971.87 353.95,973.02 355.70,973.60 C357.45,974.18 358.80,973.47 360.40,974.20 C362.00,974.93 363.18,976.93 365.30,978.00 C367.42,979.07 370.48,979.95 373.10,980.60 C375.72,981.25 378.15,981.47 381.00,981.90 C383.85,982.33 387.13,982.75 390.20,983.20 C393.27,983.65 396.12,984.15 399.40,984.60 C402.68,985.05 406.40,985.58 409.90,985.90 C413.40,986.22 416.45,986.28 420.40,986.50 C424.35,986.72 429.43,986.98 433.60,987.20 C437.77,987.42 443.43,987.70 445.40,987.80" fill="none" stroke="#5b9bd5" stroke-width="2.0" stroke-linejoin="round" stroke-linecap="butt"/>
<path d="M280.00,822.30 C280.75,825.52 282.88,834.82 284.50,841.60 C286.12,848.38 287.73,855.27 289.70,863.00 C291.67,870.73 294.25,881.25 296.30,888.00 C298.35,894.75 300.17,899.00 302.00,903.50 C303.83,908.00 305.45,910.90 307.30,915.00 C309.15,919.10 311.15,924.08 313.10,928.10 C315.05,932.12 316.93,935.57 319.00,939.10 C321.07,942.63 323.32,945.65 325.50,949.30 C327.68,952.95 330.35,958.47 332.10,961.00 C333.85,963.53 334.78,963.57 336.00,964.50 C337.22,965.43 337.67,965.67 339.40,966.60 C341.13,967.53 344.07,968.93 346.40,970.10 C348.73,971.27 351.07,972.43 353.40,973.60 C355.73,974.77 358.42,975.93 360.40,977.10 C362.38,978.27 363.40,979.35 365.30,980.60 C367.20,981.85 369.83,983.62 371.80,984.60 C373.77,985.58 364.83,986.10 377.10,986.50 C389.37,986.90 434.02,986.92 445.40,987.00" fill="none" stroke="#1a1a1a" stroke-width="1.45" stroke-dasharray="1.5,1.9" stroke-linejoin="round" stroke-linecap="butt"/>
<line x1="279.80" y1="987.00" x2="445.00" y2="987.00" stroke="#c2b0b0" stroke-width="1.6" stroke-dasharray="4.6,2"/>
<path d="M280.00,822.30 C280.75,825.52 282.88,834.87 284.50,841.60 C286.12,848.33 287.73,855.25 289.70,862.70 C291.67,870.15 294.25,880.08 296.30,886.30 C298.35,892.52 300.38,896.22 302.00,900.00 C303.62,903.78 304.75,906.42 306.00,909.00 C307.25,911.58 308.07,912.67 309.50,915.50 C310.93,918.33 312.90,922.68 314.60,926.00 C316.30,929.32 317.88,932.70 319.70,935.40 C321.52,938.10 323.70,940.18 325.50,942.20 C327.30,944.22 328.80,945.37 330.50,947.50 C332.20,949.63 333.83,952.75 335.70,955.00 C337.57,957.25 339.52,959.25 341.70,961.00 C343.88,962.75 346.47,963.98 348.80,965.50 C351.13,967.02 353.50,968.68 355.70,970.10 C357.90,971.52 359.53,972.68 362.00,974.00 C364.47,975.32 367.33,976.90 370.50,978.00 C373.67,979.10 377.50,979.40 381.00,980.60 C384.50,981.80 388.43,984.32 391.50,985.20 C394.57,986.08 396.33,985.47 399.40,985.90 C402.47,986.33 406.47,987.62 409.90,987.80 C413.33,987.98 416.48,987.00 420.00,987.00 C423.52,987.00 426.77,987.40 431.00,987.80 C435.23,988.20 443.00,989.13 445.40,989.40" fill="none" stroke="#1a1a1a" stroke-width="1.7" stroke-dasharray="5,1.8" stroke-linejoin="round" stroke-linecap="butt"/>
<path d="M280.00,822.30 C280.75,825.52 282.88,834.87 284.50,841.60 C286.12,848.33 287.73,855.25 289.70,862.70 C291.67,870.15 294.25,880.08 296.30,886.30 C298.35,892.52 300.38,896.22 302.00,900.00 C303.62,903.78 304.75,906.42 306.00,909.00 C307.25,911.58 308.07,912.67 309.50,915.50 C310.93,918.33 312.90,922.68 314.60,926.00 C316.30,929.32 317.88,932.73 319.70,935.40 C321.52,938.07 323.32,939.80 325.50,942.00 C327.68,944.20 330.37,946.28 332.80,948.60 C335.23,950.92 337.78,953.72 340.10,955.90 C342.42,958.08 345.07,960.02 346.70,961.70 C348.33,963.38 348.40,964.70 349.90,966.00 C351.40,967.30 353.95,968.63 355.70,969.50 C357.45,970.37 358.83,970.33 360.40,971.20 C361.97,972.07 363.42,974.00 365.10,974.70 C366.78,975.40 368.50,975.00 370.50,975.40 C372.50,975.80 374.47,976.33 377.10,977.10 C379.73,977.87 383.45,979.35 386.30,980.00 C389.15,980.65 391.35,980.57 394.20,981.00 C397.05,981.43 400.33,982.12 403.40,982.60 C406.47,983.08 409.77,983.57 412.60,983.90 C415.43,984.23 417.78,984.20 420.40,984.60 C423.02,985.00 425.88,986.08 428.30,986.30 C430.72,986.52 432.05,985.75 434.90,985.90 C437.75,986.05 443.65,986.98 445.40,987.20" fill="none" stroke="#c8321e" stroke-width="2.0" stroke-linejoin="round" stroke-linecap="butt"/>
<path d="M512.00,822.30 L512.31,824.33 L512.58,826.32 L512.86,828.31 L513.13,830.30 L513.41,832.30 L513.69,834.30 L513.96,836.30 L514.24,838.30 L514.52,840.31 L514.81,842.31 L515.09,844.32 L515.39,846.33 L515.68,848.34 L515.98,850.35 L516.28,852.36 L516.59,854.37 L516.90,856.38 L517.22,858.39 L517.54,860.40 L517.87,862.41 L518.21,864.42 L518.55,866.42 L518.91,868.43 L519.27,870.43 L519.64,872.44 L520.01,874.44 L520.40,876.44 L520.80,878.43 L521.21,880.42 L521.62,882.41 L522.05,884.40 L522.49,886.39 L522.94,888.37 L523.41,890.34 L523.88,892.32 L524.37,894.28 L524.87,896.25 L525.39,898.21 L525.92,900.16 L526.46,902.11 L527.02,904.06 L527.59,906.00 L528.18,907.93 L528.79,909.86 L529.41,911.78 L530.05,913.70 L530.70,915.60 L531.38,917.51 L532.07,919.40 L532.78,921.29 L533.51,923.17 L534.26,925.04 L535.02,926.91 L535.81,928.76 L536.62,930.61 L537.45,932.45 L538.30,934.28 L539.17,936.11 L540.06,937.92 L540.98,939.72 L541.92,941.52 L542.88,943.30 L543.87,945.08 L544.87,946.84 L545.91,948.60 L546.97,950.34 L548.05,952.07 L549.16,953.79 L550.30,955.50 L551.46,957.20 L552.65,958.89 L553.80,960.50 L555.51,961.64 L557.14,962.86 L558.80,964.06 L560.48,965.24 L562.18,966.40 L563.90,967.53 L565.64,968.64 L567.39,969.72 L569.17,970.78 L570.97,971.80 L572.78,972.80 L574.61,973.76 L576.46,974.69 L578.32,975.58 L580.19,976.44 L582.08,977.26 L583.99,978.05 L585.91,978.79 L587.84,979.50 L589.78,980.16 L591.74,980.77 L593.70,981.35 L595.68,981.87 L597.67,982.35 L599.66,982.78 L601.67,983.17 L603.68,983.49 L605.70,983.77 L607.72,983.99 L609.76,984.16 L611.80,984.27 L613.84,984.33 L615.89,984.32 L617.94,984.26 L620.00,984.13 L622.06,983.96 L624.12,983.75 L626.18,983.51 L628.24,983.26 L630.29,983.01 L632.35,982.76 L634.40,982.53 L636.45,982.33 L638.49,982.16 L640.53,982.05 L642.55,982.00 L644.57,982.02 L646.58,982.13 L648.58,982.33 L650.57,982.64 L652.55,983.03 L654.52,983.50 L656.49,984.02 L658.46,984.57 L660.44,985.12 L662.42,985.67 L664.41,986.18 L666.41,986.64 L668.43,987.02 L670.47,987.31 L672.53,987.48 L674.61,987.51 L676.70,987.50 L676.70,991.40 L674.76,990.37 L672.82,989.52 L670.86,988.84 L668.89,988.31 L666.92,987.92 L664.93,987.66 L662.94,987.51 L660.95,987.46 L658.94,987.49 L656.94,987.59 L654.93,987.76 L652.91,987.96 L650.90,988.19 L648.88,988.44 L646.86,988.69 L644.84,988.93 L642.83,989.15 L640.81,989.33 L638.80,989.47 L636.79,989.56 L634.78,989.61 L632.77,989.60 L630.77,989.53 L628.78,989.41 L626.78,989.25 L624.79,989.04 L622.80,988.80 L620.81,988.54 L618.82,988.25 L616.83,987.94 L614.83,987.62 L612.84,987.30 L610.84,986.98 L608.83,986.66 L606.83,986.36 L604.81,986.08 L602.80,985.81 L600.77,985.58 L598.74,985.38 L596.70,985.19 L594.66,985.00 L592.62,984.82 L590.57,984.62 L588.53,984.40 L586.48,984.14 L584.44,983.84 L582.42,983.47 L580.46,982.97 L578.60,982.32 L576.86,981.48 L575.30,980.39 L573.89,979.07 L572.56,977.61 L571.26,976.09 L569.92,974.59 L568.47,973.18 L566.93,971.85 L565.31,970.60 L563.64,969.40 L561.92,968.24 L560.18,967.11 L558.45,965.97 L556.72,964.83 L555.04,963.66 L553.41,962.44 L551.84,961.17 L550.32,959.85 L548.87,958.48 L547.48,957.06 L546.14,955.60 L544.85,954.10 L543.61,952.56 L542.43,950.98 L541.29,949.36 L540.20,947.71 L539.16,946.02 L538.16,944.30 L537.20,942.56 L536.28,940.78 L535.40,938.98 L534.56,937.16 L533.75,935.31 L532.97,933.45 L532.23,931.57 L531.52,929.67 L530.84,927.76 L530.18,925.83 L529.55,923.90 L528.95,921.96 L528.36,920.01 L527.80,918.05 L527.25,916.10 L526.73,914.14 L526.22,912.17 L525.73,910.20 L525.26,908.23 L524.80,906.26 L524.36,904.28 L523.93,902.31 L523.52,900.32 L523.12,898.34 L522.74,896.35 L522.36,894.37 L522.00,892.38 L521.65,890.38 L521.31,888.39 L520.98,886.39 L520.66,884.39 L520.35,882.40 L520.05,880.39 L519.75,878.39 L519.46,876.39 L519.18,874.39 L518.90,872.38 L518.63,870.38 L518.36,868.37 L518.10,866.36 L517.83,864.36 L517.57,862.35 L517.32,860.34 L517.06,858.33 L516.80,856.33 L516.54,854.32 L516.29,852.31 L516.03,850.30 L515.77,848.30 L515.50,846.29 L515.23,844.29 L514.96,842.29 L514.69,840.28 L514.40,838.28 L514.12,836.28 L513.82,834.28 L513.52,832.29 L513.21,830.29 L512.89,828.30 L512.57,826.31 L512.23,824.32 L512.00,822.30Z" fill="#f3d3cf" stroke="none"/>
<path d="M512.00,822.30 L512.30,824.41 L512.60,826.36 L512.89,828.32 L513.17,830.28 L513.45,832.25 L513.72,834.23 L513.99,836.21 L514.26,838.19 L514.53,840.18 L514.79,842.17 L515.05,844.17 L515.31,846.17 L515.57,848.18 L515.82,850.18 L516.08,852.19 L516.34,854.20 L516.60,856.22 L516.86,858.23 L517.13,860.25 L517.40,862.27 L517.67,864.29 L517.94,866.31 L518.22,868.33 L518.51,870.35 L518.80,872.37 L519.09,874.39 L519.40,876.41 L519.71,878.43 L520.02,880.44 L520.35,882.46 L520.69,884.47 L521.03,886.48 L521.38,888.49 L521.75,890.49 L522.12,892.49 L522.51,894.49 L522.90,896.48 L523.31,898.47 L523.74,900.46 L524.17,902.44 L524.62,904.41 L525.09,906.39 L525.57,908.35 L526.06,910.31 L526.57,912.26 L527.10,914.21 L527.65,916.15 L528.21,918.08 L528.79,920.01 L529.39,921.93 L530.00,923.84 L530.64,925.74 L531.30,927.64 L531.98,929.52 L532.68,931.40 L533.40,933.26 L534.14,935.12 L534.91,936.97 L535.70,938.81 L536.52,940.63 L537.35,942.45 L538.22,944.25 L539.11,946.05 L540.02,947.83 L540.96,949.60 L541.93,951.36 L542.93,953.10 L543.95,954.83 L545.00,956.55 L546.09,958.26 L547.20,959.95 L548.34,961.63 L549.51,963.29 L550.71,964.94 L551.95,966.58 L553.21,968.20 L554.51,969.81 L555.83,971.41 L557.18,973.00 L558.56,974.58 L559.99,976.07 L561.50,977.35 L563.12,978.31 L564.86,978.85 L566.75,978.97 L568.70,978.94 L570.66,979.04 L572.59,979.37 L574.51,979.87 L576.42,980.48 L578.34,981.14 L580.26,981.80 L582.20,982.41 L584.16,982.96 L586.13,983.47 L588.11,983.93 L590.09,984.34 L592.08,984.72 L594.08,985.06 L596.07,985.37 L598.07,985.64 L600.07,985.89 L602.07,986.10 L604.08,986.29 L606.09,986.45 L608.09,986.59 L610.11,986.70 L612.12,986.79 L614.13,986.87 L616.15,986.92 L618.16,986.96 L620.18,986.99 L622.20,987.01 L624.22,987.01 L626.24,987.00 L628.26,986.99 L630.29,986.97 L632.31,986.95 L634.33,986.93 L636.35,986.90 L638.38,986.88 L640.40,986.86 L642.42,986.84 L644.45,986.83 L646.47,986.83 L648.49,986.83 L650.51,986.85 L652.53,986.88 L654.55,986.93 L656.57,986.99 L658.59,987.07 L660.61,987.17 L662.62,987.29 L664.64,987.44 L666.65,987.61 L668.66,987.80 L670.67,988.03 L672.67,988.28 L674.68,988.57 L676.70,988.80 L676.70,986.40 L575.70,985.50 L573.70,985.10 L571.85,984.41 L570.04,983.60 L568.26,982.69 L566.51,981.70 L564.80,980.62 L563.11,979.47 L561.46,978.26 L559.84,977.00 L558.25,975.69 L556.69,974.36 L555.16,972.99 L553.66,971.61 L552.18,970.22 L550.74,968.80 L549.34,967.36 L547.98,965.90 L546.67,964.41 L545.40,962.88 L544.18,961.33 L543.01,959.73 L541.90,958.10 L540.85,956.42 L539.86,954.70 L538.93,952.93 L538.05,951.14 L537.22,949.31 L536.43,947.45 L535.68,945.57 L534.96,943.67 L534.28,941.75 L533.62,939.81 L532.99,937.87 L532.38,935.92 L531.78,933.96 L531.20,932.00 L530.63,930.04 L530.07,928.08 L529.53,926.12 L529.00,924.16 L528.48,922.19 L527.97,920.22 L527.48,918.25 L526.99,916.28 L526.52,914.31 L526.06,912.33 L525.61,910.36 L525.17,908.38 L524.74,906.40 L524.32,904.42 L523.91,902.44 L523.51,900.46 L523.12,898.47 L522.73,896.49 L522.36,894.50 L521.99,892.51 L521.63,890.52 L521.28,888.53 L520.94,886.53 L520.60,884.54 L520.27,882.55 L519.95,880.55 L519.63,878.55 L519.32,876.55 L519.01,874.55 L518.71,872.55 L518.41,870.55 L518.12,868.55 L517.84,866.54 L517.55,864.54 L517.27,862.53 L517.00,860.53 L516.73,858.52 L516.46,856.51 L516.19,854.50 L515.93,852.49 L515.67,850.48 L515.41,848.47 L515.15,846.46 L514.89,844.44 L514.64,842.43 L514.38,840.42 L514.13,838.40 L513.88,836.39 L513.62,834.37 L513.37,832.35 L513.11,830.34 L512.86,828.32 L512.60,826.30 L512.34,824.28 L512.00,822.30Z" fill="#dce8f5" stroke="none"/>
<path d="M512.0,822.3 L532.2,996.8" fill="none" stroke="#b3a5a5" stroke-width="2.3" stroke-linejoin="round" stroke-linecap="butt"/>
<path d="M512.0,822.3 L512.3,824.4 L512.6,826.4 L512.9,828.3 L513.2,830.3 L513.4,832.3 L513.7,834.2 L514.0,836.2 L514.3,838.2 L514.5,840.2 L514.8,842.2 L515.0,844.2 L515.3,846.2 L515.6,848.2 L515.8,850.2 L516.1,852.2 L516.3,854.2 L516.6,856.2 L516.9,858.2 L517.1,860.3 L517.4,862.3 L517.7,864.3 L517.9,866.3 L518.2,868.3 L518.5,870.4 L518.8,872.4 L519.1,874.4 L519.4,876.4 L519.7,878.4 L520.0,880.4 L520.4,882.5 L520.7,884.5 L521.0,886.5 L521.4,888.5 L521.7,890.5 L522.1,892.5 L522.5,894.5 L522.9,896.5 L523.3,898.5 L523.7,900.5 L524.2,902.4 L524.6,904.4 L525.1,906.4 L525.6,908.4 L526.1,910.3 L526.6,912.3 L527.1,914.2 L527.6,916.2 L528.2,918.1 L528.8,920.0 L529.4,921.9 L530.0,923.8 L530.6,925.7 L531.3,927.6 L532.0,929.5 L532.7,931.4 L533.4,933.3 L534.1,935.1 L534.9,937.0 L535.7,938.8 L536.5,940.6 L537.4,942.4 L538.2,944.3 L539.1,946.0 L540.0,947.8 L541.0,949.6 L541.9,951.4 L542.9,953.1 L544.0,954.8 L545.0,956.6 L546.1,958.3 L547.2,959.9 L548.3,961.6 L549.5,963.3 L550.7,964.9 L551.9,966.6 L553.2,968.2 L554.5,969.8 L555.8,971.4 L557.2,973.0 L558.6,974.6 L560.0,976.1 L561.5,977.3 L563.1,978.3 L564.9,978.9 L566.7,979.0 L568.7,978.9 L570.7,979.0 L572.6,979.4 L574.5,979.9 L576.4,980.5 L578.3,981.1 L580.3,981.8 L582.2,982.4 L584.2,983.0 L586.1,983.5 L588.1,983.9 L590.1,984.3 L592.1,984.7 L594.1,985.1 L596.1,985.4 L598.1,985.6 L600.1,985.9 L602.1,986.1 L604.1,986.3 L606.1,986.4 L608.1,986.6 L610.1,986.7 L612.1,986.8 L614.1,986.9 L616.1,986.9 L618.2,987.0 L620.2,987.0 L622.2,987.0 L624.2,987.0 L626.2,987.0 L628.3,987.0 L630.3,987.0 L632.3,987.0 L634.3,986.9 L636.4,986.9 L638.4,986.9 L640.4,986.9 L642.4,986.8 L644.4,986.8 L646.5,986.8 L648.5,986.8 L650.5,986.9 L652.5,986.9 L654.6,986.9 L656.6,987.0 L658.6,987.1 L660.6,987.2 L662.6,987.3 L664.6,987.4 L666.6,987.6 L668.7,987.8 L670.7,988.0 L672.7,988.3 L674.7,988.6 L676.7,988.8" fill="none" stroke="#5b9bd5" stroke-width="2.0" stroke-linejoin="round" stroke-linecap="butt"/>
<path d="M512.0,822.3 L512.3,824.3 L512.6,826.3 L512.9,828.3 L513.1,830.3 L513.4,832.4 L513.6,834.4 L513.9,836.4 L514.1,838.4 L514.4,840.4 L514.6,842.4 L514.9,844.4 L515.2,846.5 L515.4,848.5 L515.7,850.5 L515.9,852.5 L516.2,854.5 L516.5,856.5 L516.7,858.5 L517.0,860.5 L517.3,862.5 L517.6,864.5 L517.8,866.5 L518.1,868.5 L518.4,870.6 L518.7,872.6 L519.0,874.6 L519.3,876.6 L519.6,878.6 L519.9,880.5 L520.3,882.5 L520.6,884.5 L520.9,886.5 L521.3,888.5 L521.6,890.5 L522.0,892.5 L522.4,894.5 L522.7,896.5 L523.1,898.5 L523.5,900.5 L523.9,902.4 L524.3,904.4 L524.7,906.4 L525.2,908.4 L525.6,910.4 L526.1,912.3 L526.5,914.3 L527.0,916.3 L527.5,918.3 L528.0,920.2 L528.5,922.2 L529.0,924.2 L529.5,926.1 L530.1,928.1 L530.6,930.0 L531.2,932.0 L531.8,934.0 L532.4,935.9 L533.0,937.9 L533.6,939.8 L534.3,941.7 L535.0,943.7 L535.7,945.6 L536.4,947.5 L537.2,949.3 L538.0,951.1 L538.9,952.9 L539.9,954.7 L540.9,956.4 L541.9,958.1 L543.0,959.7 L544.2,961.3 L545.4,962.9 L546.7,964.4 L548.0,965.9 L549.3,967.4 L550.7,968.8 L552.2,970.2 L553.7,971.6 L555.2,973.0 L556.7,974.4 L558.3,975.7 L559.8,977.0 L561.5,978.3 L563.1,979.5 L564.8,980.6 L566.5,981.7 L568.3,982.7 L570.0,983.6 L571.9,984.4 L573.7,985.1 L575.7,985.5 L676.7,986.4" fill="none" stroke="#1a1a1a" stroke-width="1.45" stroke-dasharray="1.5,1.9" stroke-linejoin="round" stroke-linecap="butt"/>
<line x1="512.00" y1="986.40" x2="677.00" y2="986.40" stroke="#c2b0b0" stroke-width="1.6" stroke-dasharray="4.6,2"/>
<path d="M512.0,822.3 L512.2,824.3 L512.6,826.3 L512.9,828.3 L513.2,830.3 L513.5,832.3 L513.8,834.3 L514.1,836.3 L514.4,838.3 L514.7,840.3 L515.0,842.3 L515.2,844.3 L515.5,846.3 L515.8,848.3 L516.0,850.3 L516.3,852.3 L516.5,854.3 L516.8,856.3 L517.1,858.3 L517.3,860.3 L517.6,862.3 L517.8,864.4 L518.1,866.4 L518.4,868.4 L518.6,870.4 L518.9,872.4 L519.2,874.4 L519.5,876.4 L519.8,878.4 L520.0,880.4 L520.4,882.4 L520.7,884.4 L521.0,886.4 L521.3,888.4 L521.7,890.4 L522.0,892.4 L522.4,894.4 L522.7,896.4 L523.1,898.3 L523.5,900.3 L523.9,902.3 L524.4,904.3 L524.8,906.3 L525.3,908.2 L525.7,910.2 L526.2,912.2 L526.7,914.1 L527.3,916.1 L527.8,918.1 L528.4,920.0 L528.9,922.0 L529.6,923.9 L530.2,925.8 L530.8,927.8 L531.5,929.7 L532.2,931.6 L533.0,933.5 L533.7,935.3 L534.6,937.2 L535.4,939.0 L536.3,940.8 L537.2,942.6 L538.2,944.3 L539.2,946.0 L540.2,947.7 L541.3,949.4 L542.4,951.0 L543.6,952.6 L544.8,954.1 L546.1,955.6 L547.5,957.1 L548.9,958.5 L550.3,959.8 L551.8,961.2 L553.4,962.4 L555.0,963.7 L556.7,964.8 L558.4,966.0 L560.2,967.1 L561.9,968.2 L563.6,969.4 L565.3,970.6 L566.9,971.9 L568.5,973.2 L569.9,974.6 L571.3,976.1 L572.6,977.6 L573.9,979.1 L575.3,980.4 L576.9,981.5 L578.6,982.3 L580.5,983.0 L582.4,983.5 L584.4,983.8 L586.5,984.1 L588.5,984.4 L590.6,984.6 L592.6,984.8 L594.7,985.0 L596.7,985.2 L598.7,985.4 L600.8,985.6 L602.8,985.8 L604.8,986.1 L606.8,986.4 L608.8,986.7 L610.8,987.0 L612.8,987.3 L614.8,987.6 L616.8,987.9 L618.8,988.2 L620.8,988.5 L622.8,988.8 L624.8,989.0 L626.8,989.2 L628.8,989.4 L630.8,989.5 L632.8,989.6 L634.8,989.6 L636.8,989.6 L638.8,989.5 L640.8,989.3 L642.8,989.1 L644.8,988.9 L646.9,988.7 L648.9,988.4 L650.9,988.2 L652.9,988.0 L654.9,987.8 L656.9,987.6 L658.9,987.5 L660.9,987.5 L662.9,987.5 L664.9,987.7 L666.9,987.9 L668.9,988.3 L670.9,988.8 L672.8,989.5 L674.8,990.4 L676.7,991.4" fill="none" stroke="#1a1a1a" stroke-width="1.7" stroke-dasharray="5,1.8" stroke-linejoin="round" stroke-linecap="butt"/>
<path d="M512.0,822.3 L512.3,824.3 L512.6,826.3 L512.9,828.3 L513.1,830.3 L513.4,832.3 L513.7,834.3 L514.0,836.3 L514.2,838.3 L514.5,840.3 L514.8,842.3 L515.1,844.3 L515.4,846.3 L515.7,848.3 L516.0,850.3 L516.3,852.4 L516.6,854.4 L516.9,856.4 L517.2,858.4 L517.5,860.4 L517.9,862.4 L518.2,864.4 L518.6,866.4 L518.9,868.4 L519.3,870.4 L519.6,872.4 L520.0,874.4 L520.4,876.4 L520.8,878.4 L521.2,880.4 L521.6,882.4 L522.1,884.4 L522.5,886.4 L522.9,888.4 L523.4,890.3 L523.9,892.3 L524.4,894.3 L524.9,896.2 L525.4,898.2 L525.9,900.2 L526.5,902.1 L527.0,904.1 L527.6,906.0 L528.2,907.9 L528.8,909.9 L529.4,911.8 L530.0,913.7 L530.7,915.6 L531.4,917.5 L532.1,919.4 L532.8,921.3 L533.5,923.2 L534.3,925.0 L535.0,926.9 L535.8,928.8 L536.6,930.6 L537.4,932.5 L538.3,934.3 L539.2,936.1 L540.1,937.9 L541.0,939.7 L541.9,941.5 L542.9,943.3 L543.9,945.1 L544.9,946.8 L545.9,948.6 L547.0,950.3 L548.1,952.1 L549.2,953.8 L550.3,955.5 L551.5,957.2 L552.6,958.9 L553.8,960.5 L555.5,961.6 L557.1,962.9 L558.8,964.1 L560.5,965.2 L562.2,966.4 L563.9,967.5 L565.6,968.6 L567.4,969.7 L569.2,970.8 L571.0,971.8 L572.8,972.8 L574.6,973.8 L576.5,974.7 L578.3,975.6 L580.2,976.4 L582.1,977.3 L584.0,978.0 L585.9,978.8 L587.8,979.5 L589.8,980.2 L591.7,980.8 L593.7,981.3 L595.7,981.9 L597.7,982.4 L599.7,982.8 L601.7,983.2 L603.7,983.5 L605.7,983.8 L607.7,984.0 L609.8,984.2 L611.8,984.3 L613.8,984.3 L615.9,984.3 L617.9,984.3 L620.0,984.1 L622.1,984.0 L624.1,983.7 L626.2,983.5 L628.2,983.3 L630.3,983.0 L632.4,982.8 L634.4,982.5 L636.4,982.3 L638.5,982.2 L640.5,982.1 L642.6,982.0 L644.6,982.0 L646.6,982.1 L648.6,982.3 L650.6,982.6 L652.6,983.0 L654.5,983.5 L656.5,984.0 L658.5,984.6 L660.4,985.1 L662.4,985.7 L664.4,986.2 L666.4,986.6 L668.4,987.0 L670.5,987.3 L672.5,987.5 L674.6,987.5 L676.7,987.5" fill="none" stroke="#c8321e" stroke-width="2.0" stroke-linejoin="round" stroke-linecap="butt"/>
</svg></body></html>
